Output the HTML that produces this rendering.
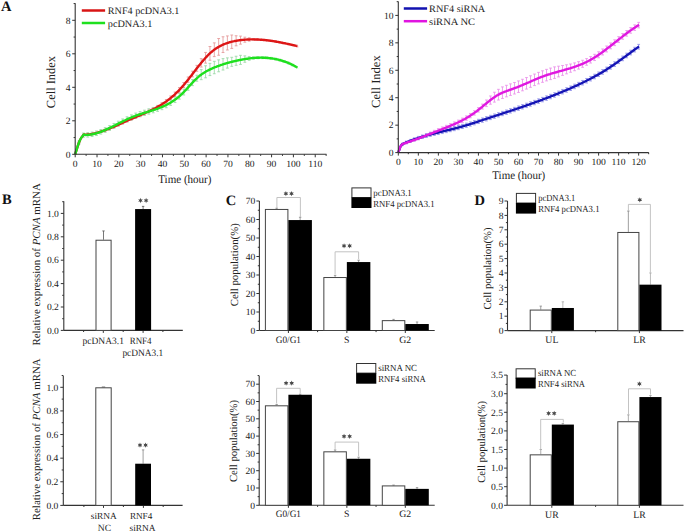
<!DOCTYPE html>
<html><head><meta charset="utf-8"><style>
html,body{margin:0;padding:0;background:#fff;}
svg{display:block;}
text{font-family:"Liberation Serif", serif;text-rendering:geometricPrecision;}
</style></head><body>
<svg width="685" height="532" viewBox="0 0 685 532">
<rect x="0" y="0" width="685" height="532" fill="#fff"/>
<text x="1.00" y="11.40" font-size="14.5" text-anchor="start" fill="#111" stroke="#111" stroke-width="0" font-weight="bold" >A</text>
<text x="2.00" y="204.40" font-size="14.5" text-anchor="start" fill="#111" stroke="#111" stroke-width="0" font-weight="bold" >B</text>
<text x="225.80" y="204.80" font-size="14.5" text-anchor="start" fill="#111" stroke="#111" stroke-width="0" font-weight="bold" >C</text>
<text x="474.60" y="204.50" font-size="14.5" text-anchor="start" fill="#111" stroke="#111" stroke-width="0" font-weight="bold" >D</text>
<g clip-path="none">
<line x1="79.02" y1="141.87" x2="79.02" y2="143.28" stroke="#e49898" stroke-width="0.85" />
<line x1="77.62" y1="141.87" x2="80.42" y2="141.87" stroke="#e49898" stroke-width="0.85" />
<line x1="77.62" y1="143.28" x2="80.42" y2="143.28" stroke="#e49898" stroke-width="0.85" />
<line x1="83.38" y1="134.46" x2="83.38" y2="135.94" stroke="#e49898" stroke-width="0.85" />
<line x1="81.98" y1="134.46" x2="84.78" y2="134.46" stroke="#e49898" stroke-width="0.85" />
<line x1="81.98" y1="135.94" x2="84.78" y2="135.94" stroke="#e49898" stroke-width="0.85" />
<line x1="87.75" y1="133.79" x2="87.75" y2="135.35" stroke="#e49898" stroke-width="0.85" />
<line x1="86.35" y1="133.79" x2="89.15" y2="133.79" stroke="#e49898" stroke-width="0.85" />
<line x1="86.35" y1="135.35" x2="89.15" y2="135.35" stroke="#e49898" stroke-width="0.85" />
<line x1="92.11" y1="133.09" x2="92.11" y2="134.71" stroke="#e49898" stroke-width="0.85" />
<line x1="90.71" y1="133.09" x2="93.51" y2="133.09" stroke="#e49898" stroke-width="0.85" />
<line x1="90.71" y1="134.71" x2="93.51" y2="134.71" stroke="#e49898" stroke-width="0.85" />
<line x1="96.47" y1="132.06" x2="96.47" y2="133.76" stroke="#e49898" stroke-width="0.85" />
<line x1="95.07" y1="132.06" x2="97.87" y2="132.06" stroke="#e49898" stroke-width="0.85" />
<line x1="95.07" y1="133.76" x2="97.87" y2="133.76" stroke="#e49898" stroke-width="0.85" />
<line x1="100.84" y1="130.76" x2="100.84" y2="132.54" stroke="#e49898" stroke-width="0.85" />
<line x1="99.44" y1="130.76" x2="102.24" y2="130.76" stroke="#e49898" stroke-width="0.85" />
<line x1="99.44" y1="132.54" x2="102.24" y2="132.54" stroke="#e49898" stroke-width="0.85" />
<line x1="105.20" y1="129.23" x2="105.20" y2="131.08" stroke="#e49898" stroke-width="0.85" />
<line x1="103.80" y1="129.23" x2="106.60" y2="129.23" stroke="#e49898" stroke-width="0.85" />
<line x1="103.80" y1="131.08" x2="106.60" y2="131.08" stroke="#e49898" stroke-width="0.85" />
<line x1="109.57" y1="127.51" x2="109.57" y2="129.44" stroke="#e49898" stroke-width="0.85" />
<line x1="108.17" y1="127.51" x2="110.97" y2="127.51" stroke="#e49898" stroke-width="0.85" />
<line x1="108.17" y1="129.44" x2="110.97" y2="129.44" stroke="#e49898" stroke-width="0.85" />
<line x1="113.93" y1="125.65" x2="113.93" y2="127.65" stroke="#e49898" stroke-width="0.85" />
<line x1="112.53" y1="125.65" x2="115.33" y2="125.65" stroke="#e49898" stroke-width="0.85" />
<line x1="112.53" y1="127.65" x2="115.33" y2="127.65" stroke="#e49898" stroke-width="0.85" />
<line x1="118.29" y1="123.70" x2="118.29" y2="125.78" stroke="#e49898" stroke-width="0.85" />
<line x1="116.89" y1="123.70" x2="119.69" y2="123.70" stroke="#e49898" stroke-width="0.85" />
<line x1="116.89" y1="125.78" x2="119.69" y2="125.78" stroke="#e49898" stroke-width="0.85" />
<line x1="122.66" y1="121.70" x2="122.66" y2="123.85" stroke="#e49898" stroke-width="0.85" />
<line x1="121.26" y1="121.70" x2="124.06" y2="121.70" stroke="#e49898" stroke-width="0.85" />
<line x1="121.26" y1="123.85" x2="124.06" y2="123.85" stroke="#e49898" stroke-width="0.85" />
<line x1="127.02" y1="119.69" x2="127.02" y2="121.91" stroke="#e49898" stroke-width="0.85" />
<line x1="125.62" y1="119.69" x2="128.42" y2="119.69" stroke="#e49898" stroke-width="0.85" />
<line x1="125.62" y1="121.91" x2="128.42" y2="121.91" stroke="#e49898" stroke-width="0.85" />
<line x1="131.39" y1="117.72" x2="131.39" y2="120.02" stroke="#e49898" stroke-width="0.85" />
<line x1="129.99" y1="117.72" x2="132.79" y2="117.72" stroke="#e49898" stroke-width="0.85" />
<line x1="129.99" y1="120.02" x2="132.79" y2="120.02" stroke="#e49898" stroke-width="0.85" />
<line x1="135.75" y1="115.82" x2="135.75" y2="118.19" stroke="#e49898" stroke-width="0.85" />
<line x1="134.35" y1="115.82" x2="137.15" y2="115.82" stroke="#e49898" stroke-width="0.85" />
<line x1="134.35" y1="118.19" x2="137.15" y2="118.19" stroke="#e49898" stroke-width="0.85" />
<line x1="140.11" y1="113.95" x2="140.11" y2="116.39" stroke="#e49898" stroke-width="0.85" />
<line x1="138.71" y1="113.95" x2="141.51" y2="113.95" stroke="#e49898" stroke-width="0.85" />
<line x1="138.71" y1="116.39" x2="141.51" y2="116.39" stroke="#e49898" stroke-width="0.85" />
<line x1="144.48" y1="112.04" x2="144.48" y2="114.56" stroke="#e49898" stroke-width="0.85" />
<line x1="143.08" y1="112.04" x2="145.88" y2="112.04" stroke="#e49898" stroke-width="0.85" />
<line x1="143.08" y1="114.56" x2="145.88" y2="114.56" stroke="#e49898" stroke-width="0.85" />
<line x1="148.84" y1="110.04" x2="148.84" y2="112.63" stroke="#e49898" stroke-width="0.85" />
<line x1="147.44" y1="110.04" x2="150.24" y2="110.04" stroke="#e49898" stroke-width="0.85" />
<line x1="147.44" y1="112.63" x2="150.24" y2="112.63" stroke="#e49898" stroke-width="0.85" />
<line x1="153.21" y1="107.88" x2="153.21" y2="110.55" stroke="#e49898" stroke-width="0.85" />
<line x1="151.81" y1="107.88" x2="154.61" y2="107.88" stroke="#e49898" stroke-width="0.85" />
<line x1="151.81" y1="110.55" x2="154.61" y2="110.55" stroke="#e49898" stroke-width="0.85" />
<line x1="157.57" y1="105.40" x2="157.57" y2="108.37" stroke="#e49898" stroke-width="0.85" />
<line x1="156.17" y1="105.40" x2="158.97" y2="105.40" stroke="#e49898" stroke-width="0.85" />
<line x1="156.17" y1="108.37" x2="158.97" y2="108.37" stroke="#e49898" stroke-width="0.85" />
<line x1="161.93" y1="102.63" x2="161.93" y2="105.93" stroke="#e49898" stroke-width="0.85" />
<line x1="160.53" y1="102.63" x2="163.33" y2="102.63" stroke="#e49898" stroke-width="0.85" />
<line x1="160.53" y1="105.93" x2="163.33" y2="105.93" stroke="#e49898" stroke-width="0.85" />
<line x1="166.30" y1="99.52" x2="166.30" y2="103.16" stroke="#e49898" stroke-width="0.85" />
<line x1="164.90" y1="99.52" x2="167.70" y2="99.52" stroke="#e49898" stroke-width="0.85" />
<line x1="164.90" y1="103.16" x2="167.70" y2="103.16" stroke="#e49898" stroke-width="0.85" />
<line x1="170.66" y1="96.01" x2="170.66" y2="99.99" stroke="#e49898" stroke-width="0.85" />
<line x1="169.26" y1="96.01" x2="172.06" y2="96.01" stroke="#e49898" stroke-width="0.85" />
<line x1="169.26" y1="99.99" x2="172.06" y2="99.99" stroke="#e49898" stroke-width="0.85" />
<line x1="175.03" y1="92.05" x2="175.03" y2="96.37" stroke="#e49898" stroke-width="0.85" />
<line x1="173.63" y1="92.05" x2="176.43" y2="92.05" stroke="#e49898" stroke-width="0.85" />
<line x1="173.63" y1="96.37" x2="176.43" y2="96.37" stroke="#e49898" stroke-width="0.85" />
<line x1="179.39" y1="87.58" x2="179.39" y2="92.23" stroke="#e49898" stroke-width="0.85" />
<line x1="177.99" y1="87.58" x2="180.79" y2="87.58" stroke="#e49898" stroke-width="0.85" />
<line x1="177.99" y1="92.23" x2="180.79" y2="92.23" stroke="#e49898" stroke-width="0.85" />
<line x1="183.75" y1="82.53" x2="183.75" y2="87.52" stroke="#e49898" stroke-width="0.85" />
<line x1="182.35" y1="82.53" x2="185.15" y2="82.53" stroke="#e49898" stroke-width="0.85" />
<line x1="182.35" y1="87.52" x2="185.15" y2="87.52" stroke="#e49898" stroke-width="0.85" />
<line x1="188.12" y1="77.00" x2="188.12" y2="82.31" stroke="#e49898" stroke-width="0.85" />
<line x1="186.72" y1="77.00" x2="189.52" y2="77.00" stroke="#e49898" stroke-width="0.85" />
<line x1="186.72" y1="82.31" x2="189.52" y2="82.31" stroke="#e49898" stroke-width="0.85" />
<line x1="192.48" y1="71.19" x2="192.48" y2="76.84" stroke="#e49898" stroke-width="0.85" />
<line x1="191.08" y1="71.19" x2="193.88" y2="71.19" stroke="#e49898" stroke-width="0.85" />
<line x1="191.08" y1="76.84" x2="193.88" y2="76.84" stroke="#e49898" stroke-width="0.85" />
<line x1="196.85" y1="65.35" x2="196.85" y2="71.33" stroke="#e49898" stroke-width="0.85" />
<line x1="195.45" y1="65.35" x2="198.25" y2="65.35" stroke="#e49898" stroke-width="0.85" />
<line x1="195.45" y1="71.33" x2="198.25" y2="71.33" stroke="#e49898" stroke-width="0.85" />
<line x1="201.21" y1="58.66" x2="201.21" y2="67.04" stroke="#e49898" stroke-width="0.85" />
<line x1="199.81" y1="58.66" x2="202.61" y2="58.66" stroke="#e49898" stroke-width="0.85" />
<line x1="199.81" y1="67.04" x2="202.61" y2="67.04" stroke="#e49898" stroke-width="0.85" />
<line x1="205.57" y1="52.42" x2="205.57" y2="63.14" stroke="#e49898" stroke-width="0.85" />
<line x1="204.17" y1="52.42" x2="206.97" y2="52.42" stroke="#e49898" stroke-width="0.85" />
<line x1="204.17" y1="63.14" x2="206.97" y2="63.14" stroke="#e49898" stroke-width="0.85" />
<line x1="209.94" y1="46.49" x2="209.94" y2="60.23" stroke="#e49898" stroke-width="0.85" />
<line x1="208.54" y1="46.49" x2="211.34" y2="46.49" stroke="#e49898" stroke-width="0.85" />
<line x1="208.54" y1="60.23" x2="211.34" y2="60.23" stroke="#e49898" stroke-width="0.85" />
<line x1="214.30" y1="42.87" x2="214.30" y2="56.61" stroke="#e49898" stroke-width="0.85" />
<line x1="212.90" y1="42.87" x2="215.70" y2="42.87" stroke="#e49898" stroke-width="0.85" />
<line x1="212.90" y1="56.61" x2="215.70" y2="56.61" stroke="#e49898" stroke-width="0.85" />
<line x1="218.67" y1="38.50" x2="218.67" y2="55.25" stroke="#e49898" stroke-width="0.85" />
<line x1="217.27" y1="38.50" x2="220.07" y2="38.50" stroke="#e49898" stroke-width="0.85" />
<line x1="217.27" y1="55.25" x2="220.07" y2="55.25" stroke="#e49898" stroke-width="0.85" />
<line x1="223.03" y1="36.78" x2="223.03" y2="52.52" stroke="#e49898" stroke-width="0.85" />
<line x1="221.63" y1="36.78" x2="224.43" y2="36.78" stroke="#e49898" stroke-width="0.85" />
<line x1="221.63" y1="52.52" x2="224.43" y2="52.52" stroke="#e49898" stroke-width="0.85" />
<line x1="227.39" y1="35.93" x2="227.39" y2="50.00" stroke="#e49898" stroke-width="0.85" />
<line x1="225.99" y1="35.93" x2="228.79" y2="35.93" stroke="#e49898" stroke-width="0.85" />
<line x1="225.99" y1="50.00" x2="228.79" y2="50.00" stroke="#e49898" stroke-width="0.85" />
<line x1="231.76" y1="35.02" x2="231.76" y2="48.42" stroke="#e49898" stroke-width="0.85" />
<line x1="230.36" y1="35.02" x2="233.16" y2="35.02" stroke="#e49898" stroke-width="0.85" />
<line x1="230.36" y1="48.42" x2="233.16" y2="48.42" stroke="#e49898" stroke-width="0.85" />
<line x1="236.12" y1="35.77" x2="236.12" y2="45.82" stroke="#e49898" stroke-width="0.85" />
<line x1="234.72" y1="35.77" x2="237.52" y2="35.77" stroke="#e49898" stroke-width="0.85" />
<line x1="234.72" y1="45.82" x2="237.52" y2="45.82" stroke="#e49898" stroke-width="0.85" />
<line x1="240.49" y1="36.11" x2="240.49" y2="44.15" stroke="#e49898" stroke-width="0.85" />
<line x1="239.09" y1="36.11" x2="241.89" y2="36.11" stroke="#e49898" stroke-width="0.85" />
<line x1="239.09" y1="44.15" x2="241.89" y2="44.15" stroke="#e49898" stroke-width="0.85" />
<line x1="244.85" y1="37.18" x2="244.85" y2="42.20" stroke="#e49898" stroke-width="0.85" />
<line x1="243.45" y1="37.18" x2="246.25" y2="37.18" stroke="#e49898" stroke-width="0.85" />
<line x1="243.45" y1="42.20" x2="246.25" y2="42.20" stroke="#e49898" stroke-width="0.85" />
<line x1="249.21" y1="37.78" x2="249.21" y2="41.13" stroke="#e49898" stroke-width="0.85" />
<line x1="247.81" y1="37.78" x2="250.61" y2="37.78" stroke="#e49898" stroke-width="0.85" />
<line x1="247.81" y1="41.13" x2="250.61" y2="41.13" stroke="#e49898" stroke-width="0.85" />
<line x1="253.58" y1="38.63" x2="253.58" y2="40.19" stroke="#e49898" stroke-width="0.85" />
<line x1="252.18" y1="38.63" x2="254.98" y2="38.63" stroke="#e49898" stroke-width="0.85" />
<line x1="252.18" y1="40.19" x2="254.98" y2="40.19" stroke="#e49898" stroke-width="0.85" />
<line x1="257.94" y1="38.88" x2="257.94" y2="40.20" stroke="#e49898" stroke-width="0.85" />
<line x1="256.54" y1="38.88" x2="259.34" y2="38.88" stroke="#e49898" stroke-width="0.85" />
<line x1="256.54" y1="40.20" x2="259.34" y2="40.20" stroke="#e49898" stroke-width="0.85" />
<line x1="262.31" y1="39.18" x2="262.31" y2="40.48" stroke="#e49898" stroke-width="0.85" />
<line x1="260.91" y1="39.18" x2="263.71" y2="39.18" stroke="#e49898" stroke-width="0.85" />
<line x1="260.91" y1="40.48" x2="263.71" y2="40.48" stroke="#e49898" stroke-width="0.85" />
<line x1="266.67" y1="39.62" x2="266.67" y2="40.91" stroke="#e49898" stroke-width="0.85" />
<line x1="265.27" y1="39.62" x2="268.07" y2="39.62" stroke="#e49898" stroke-width="0.85" />
<line x1="265.27" y1="40.91" x2="268.07" y2="40.91" stroke="#e49898" stroke-width="0.85" />
<line x1="271.03" y1="40.20" x2="271.03" y2="41.47" stroke="#e49898" stroke-width="0.85" />
<line x1="269.63" y1="40.20" x2="272.43" y2="40.20" stroke="#e49898" stroke-width="0.85" />
<line x1="269.63" y1="41.47" x2="272.43" y2="41.47" stroke="#e49898" stroke-width="0.85" />
<line x1="275.40" y1="40.88" x2="275.40" y2="42.14" stroke="#e49898" stroke-width="0.85" />
<line x1="274.00" y1="40.88" x2="276.80" y2="40.88" stroke="#e49898" stroke-width="0.85" />
<line x1="274.00" y1="42.14" x2="276.80" y2="42.14" stroke="#e49898" stroke-width="0.85" />
<line x1="279.76" y1="41.67" x2="279.76" y2="42.90" stroke="#e49898" stroke-width="0.85" />
<line x1="278.36" y1="41.67" x2="281.16" y2="41.67" stroke="#e49898" stroke-width="0.85" />
<line x1="278.36" y1="42.90" x2="281.16" y2="42.90" stroke="#e49898" stroke-width="0.85" />
<line x1="284.13" y1="42.53" x2="284.13" y2="43.75" stroke="#e49898" stroke-width="0.85" />
<line x1="282.73" y1="42.53" x2="285.53" y2="42.53" stroke="#e49898" stroke-width="0.85" />
<line x1="282.73" y1="43.75" x2="285.53" y2="43.75" stroke="#e49898" stroke-width="0.85" />
<line x1="288.49" y1="43.47" x2="288.49" y2="44.67" stroke="#e49898" stroke-width="0.85" />
<line x1="287.09" y1="43.47" x2="289.89" y2="43.47" stroke="#e49898" stroke-width="0.85" />
<line x1="287.09" y1="44.67" x2="289.89" y2="44.67" stroke="#e49898" stroke-width="0.85" />
<line x1="292.85" y1="44.45" x2="292.85" y2="45.63" stroke="#e49898" stroke-width="0.85" />
<line x1="291.45" y1="44.45" x2="294.25" y2="44.45" stroke="#e49898" stroke-width="0.85" />
<line x1="291.45" y1="45.63" x2="294.25" y2="45.63" stroke="#e49898" stroke-width="0.85" />
<line x1="79.02" y1="141.06" x2="79.02" y2="144.09" stroke="#98d8a4" stroke-width="0.85" />
<line x1="77.62" y1="141.06" x2="80.42" y2="141.06" stroke="#98d8a4" stroke-width="0.85" />
<line x1="77.62" y1="144.09" x2="80.42" y2="144.09" stroke="#98d8a4" stroke-width="0.85" />
<line x1="83.38" y1="133.09" x2="83.38" y2="137.30" stroke="#98d8a4" stroke-width="0.85" />
<line x1="81.98" y1="133.09" x2="84.78" y2="133.09" stroke="#98d8a4" stroke-width="0.85" />
<line x1="81.98" y1="137.30" x2="84.78" y2="137.30" stroke="#98d8a4" stroke-width="0.85" />
<line x1="87.75" y1="132.65" x2="87.75" y2="137.06" stroke="#98d8a4" stroke-width="0.85" />
<line x1="86.35" y1="132.65" x2="89.15" y2="132.65" stroke="#98d8a4" stroke-width="0.85" />
<line x1="86.35" y1="137.06" x2="89.15" y2="137.06" stroke="#98d8a4" stroke-width="0.85" />
<line x1="92.11" y1="132.05" x2="92.11" y2="136.53" stroke="#98d8a4" stroke-width="0.85" />
<line x1="90.71" y1="132.05" x2="93.51" y2="132.05" stroke="#98d8a4" stroke-width="0.85" />
<line x1="90.71" y1="136.53" x2="93.51" y2="136.53" stroke="#98d8a4" stroke-width="0.85" />
<line x1="96.47" y1="130.97" x2="96.47" y2="135.51" stroke="#98d8a4" stroke-width="0.85" />
<line x1="95.07" y1="130.97" x2="97.87" y2="130.97" stroke="#98d8a4" stroke-width="0.85" />
<line x1="95.07" y1="135.51" x2="97.87" y2="135.51" stroke="#98d8a4" stroke-width="0.85" />
<line x1="100.84" y1="129.49" x2="100.84" y2="134.09" stroke="#98d8a4" stroke-width="0.85" />
<line x1="99.44" y1="129.49" x2="102.24" y2="129.49" stroke="#98d8a4" stroke-width="0.85" />
<line x1="99.44" y1="134.09" x2="102.24" y2="134.09" stroke="#98d8a4" stroke-width="0.85" />
<line x1="105.20" y1="127.69" x2="105.20" y2="132.35" stroke="#98d8a4" stroke-width="0.85" />
<line x1="103.80" y1="127.69" x2="106.60" y2="127.69" stroke="#98d8a4" stroke-width="0.85" />
<line x1="103.80" y1="132.35" x2="106.60" y2="132.35" stroke="#98d8a4" stroke-width="0.85" />
<line x1="109.57" y1="125.65" x2="109.57" y2="130.38" stroke="#98d8a4" stroke-width="0.85" />
<line x1="108.17" y1="125.65" x2="110.97" y2="125.65" stroke="#98d8a4" stroke-width="0.85" />
<line x1="108.17" y1="130.38" x2="110.97" y2="130.38" stroke="#98d8a4" stroke-width="0.85" />
<line x1="113.93" y1="123.46" x2="113.93" y2="128.26" stroke="#98d8a4" stroke-width="0.85" />
<line x1="112.53" y1="123.46" x2="115.33" y2="123.46" stroke="#98d8a4" stroke-width="0.85" />
<line x1="112.53" y1="128.26" x2="115.33" y2="128.26" stroke="#98d8a4" stroke-width="0.85" />
<line x1="118.29" y1="121.20" x2="118.29" y2="126.07" stroke="#98d8a4" stroke-width="0.85" />
<line x1="116.89" y1="121.20" x2="119.69" y2="121.20" stroke="#98d8a4" stroke-width="0.85" />
<line x1="116.89" y1="126.07" x2="119.69" y2="126.07" stroke="#98d8a4" stroke-width="0.85" />
<line x1="122.66" y1="118.96" x2="122.66" y2="123.89" stroke="#98d8a4" stroke-width="0.85" />
<line x1="121.26" y1="118.96" x2="124.06" y2="118.96" stroke="#98d8a4" stroke-width="0.85" />
<line x1="121.26" y1="123.89" x2="124.06" y2="123.89" stroke="#98d8a4" stroke-width="0.85" />
<line x1="127.02" y1="116.82" x2="127.02" y2="121.81" stroke="#98d8a4" stroke-width="0.85" />
<line x1="125.62" y1="116.82" x2="128.42" y2="116.82" stroke="#98d8a4" stroke-width="0.85" />
<line x1="125.62" y1="121.81" x2="128.42" y2="121.81" stroke="#98d8a4" stroke-width="0.85" />
<line x1="131.39" y1="114.86" x2="131.39" y2="119.91" stroke="#98d8a4" stroke-width="0.85" />
<line x1="129.99" y1="114.86" x2="132.79" y2="114.86" stroke="#98d8a4" stroke-width="0.85" />
<line x1="129.99" y1="119.91" x2="132.79" y2="119.91" stroke="#98d8a4" stroke-width="0.85" />
<line x1="135.75" y1="113.14" x2="135.75" y2="118.26" stroke="#98d8a4" stroke-width="0.85" />
<line x1="134.35" y1="113.14" x2="137.15" y2="113.14" stroke="#98d8a4" stroke-width="0.85" />
<line x1="134.35" y1="118.26" x2="137.15" y2="118.26" stroke="#98d8a4" stroke-width="0.85" />
<line x1="140.11" y1="111.61" x2="140.11" y2="116.79" stroke="#98d8a4" stroke-width="0.85" />
<line x1="138.71" y1="111.61" x2="141.51" y2="111.61" stroke="#98d8a4" stroke-width="0.85" />
<line x1="138.71" y1="116.79" x2="141.51" y2="116.79" stroke="#98d8a4" stroke-width="0.85" />
<line x1="144.48" y1="110.19" x2="144.48" y2="115.44" stroke="#98d8a4" stroke-width="0.85" />
<line x1="143.08" y1="110.19" x2="145.88" y2="110.19" stroke="#98d8a4" stroke-width="0.85" />
<line x1="143.08" y1="115.44" x2="145.88" y2="115.44" stroke="#98d8a4" stroke-width="0.85" />
<line x1="148.84" y1="108.82" x2="148.84" y2="114.13" stroke="#98d8a4" stroke-width="0.85" />
<line x1="147.44" y1="108.82" x2="150.24" y2="108.82" stroke="#98d8a4" stroke-width="0.85" />
<line x1="147.44" y1="114.13" x2="150.24" y2="114.13" stroke="#98d8a4" stroke-width="0.85" />
<line x1="153.21" y1="107.41" x2="153.21" y2="112.79" stroke="#98d8a4" stroke-width="0.85" />
<line x1="151.81" y1="107.41" x2="154.61" y2="107.41" stroke="#98d8a4" stroke-width="0.85" />
<line x1="151.81" y1="112.79" x2="154.61" y2="112.79" stroke="#98d8a4" stroke-width="0.85" />
<line x1="157.57" y1="105.88" x2="157.57" y2="111.32" stroke="#98d8a4" stroke-width="0.85" />
<line x1="156.17" y1="105.88" x2="158.97" y2="105.88" stroke="#98d8a4" stroke-width="0.85" />
<line x1="156.17" y1="111.32" x2="158.97" y2="111.32" stroke="#98d8a4" stroke-width="0.85" />
<line x1="161.93" y1="104.16" x2="161.93" y2="109.67" stroke="#98d8a4" stroke-width="0.85" />
<line x1="160.53" y1="104.16" x2="163.33" y2="104.16" stroke="#98d8a4" stroke-width="0.85" />
<line x1="160.53" y1="109.67" x2="163.33" y2="109.67" stroke="#98d8a4" stroke-width="0.85" />
<line x1="166.30" y1="102.15" x2="166.30" y2="107.72" stroke="#98d8a4" stroke-width="0.85" />
<line x1="164.90" y1="102.15" x2="167.70" y2="102.15" stroke="#98d8a4" stroke-width="0.85" />
<line x1="164.90" y1="107.72" x2="167.70" y2="107.72" stroke="#98d8a4" stroke-width="0.85" />
<line x1="170.66" y1="99.75" x2="170.66" y2="105.38" stroke="#98d8a4" stroke-width="0.85" />
<line x1="169.26" y1="99.75" x2="172.06" y2="99.75" stroke="#98d8a4" stroke-width="0.85" />
<line x1="169.26" y1="105.38" x2="172.06" y2="105.38" stroke="#98d8a4" stroke-width="0.85" />
<line x1="175.03" y1="96.85" x2="175.03" y2="102.55" stroke="#98d8a4" stroke-width="0.85" />
<line x1="173.63" y1="96.85" x2="176.43" y2="96.85" stroke="#98d8a4" stroke-width="0.85" />
<line x1="173.63" y1="102.55" x2="176.43" y2="102.55" stroke="#98d8a4" stroke-width="0.85" />
<line x1="179.39" y1="93.35" x2="179.39" y2="99.11" stroke="#98d8a4" stroke-width="0.85" />
<line x1="177.99" y1="93.35" x2="180.79" y2="93.35" stroke="#98d8a4" stroke-width="0.85" />
<line x1="177.99" y1="99.11" x2="180.79" y2="99.11" stroke="#98d8a4" stroke-width="0.85" />
<line x1="183.75" y1="89.15" x2="183.75" y2="94.98" stroke="#98d8a4" stroke-width="0.85" />
<line x1="182.35" y1="89.15" x2="185.15" y2="89.15" stroke="#98d8a4" stroke-width="0.85" />
<line x1="182.35" y1="94.98" x2="185.15" y2="94.98" stroke="#98d8a4" stroke-width="0.85" />
<line x1="188.12" y1="84.44" x2="188.12" y2="90.33" stroke="#98d8a4" stroke-width="0.85" />
<line x1="186.72" y1="84.44" x2="189.52" y2="84.44" stroke="#98d8a4" stroke-width="0.85" />
<line x1="186.72" y1="90.33" x2="189.52" y2="90.33" stroke="#98d8a4" stroke-width="0.85" />
<line x1="192.48" y1="79.65" x2="192.48" y2="85.61" stroke="#98d8a4" stroke-width="0.85" />
<line x1="191.08" y1="79.65" x2="193.88" y2="79.65" stroke="#98d8a4" stroke-width="0.85" />
<line x1="191.08" y1="85.61" x2="193.88" y2="85.61" stroke="#98d8a4" stroke-width="0.85" />
<line x1="196.85" y1="75.24" x2="196.85" y2="81.26" stroke="#98d8a4" stroke-width="0.85" />
<line x1="195.45" y1="75.24" x2="198.25" y2="75.24" stroke="#98d8a4" stroke-width="0.85" />
<line x1="195.45" y1="81.26" x2="198.25" y2="81.26" stroke="#98d8a4" stroke-width="0.85" />
<line x1="201.21" y1="69.62" x2="201.21" y2="79.67" stroke="#98d8a4" stroke-width="0.85" />
<line x1="199.81" y1="69.62" x2="202.61" y2="69.62" stroke="#98d8a4" stroke-width="0.85" />
<line x1="199.81" y1="79.67" x2="202.61" y2="79.67" stroke="#98d8a4" stroke-width="0.85" />
<line x1="205.57" y1="65.76" x2="205.57" y2="77.82" stroke="#98d8a4" stroke-width="0.85" />
<line x1="204.17" y1="65.76" x2="206.97" y2="65.76" stroke="#98d8a4" stroke-width="0.85" />
<line x1="204.17" y1="77.82" x2="206.97" y2="77.82" stroke="#98d8a4" stroke-width="0.85" />
<line x1="209.94" y1="63.36" x2="209.94" y2="75.59" stroke="#98d8a4" stroke-width="0.85" />
<line x1="208.54" y1="63.36" x2="211.34" y2="63.36" stroke="#98d8a4" stroke-width="0.85" />
<line x1="208.54" y1="75.59" x2="211.34" y2="75.59" stroke="#98d8a4" stroke-width="0.85" />
<line x1="214.30" y1="61.34" x2="214.30" y2="73.74" stroke="#98d8a4" stroke-width="0.85" />
<line x1="212.90" y1="61.34" x2="215.70" y2="61.34" stroke="#98d8a4" stroke-width="0.85" />
<line x1="212.90" y1="73.74" x2="215.70" y2="73.74" stroke="#98d8a4" stroke-width="0.85" />
<line x1="218.67" y1="59.89" x2="218.67" y2="71.78" stroke="#98d8a4" stroke-width="0.85" />
<line x1="217.27" y1="59.89" x2="220.07" y2="59.89" stroke="#98d8a4" stroke-width="0.85" />
<line x1="217.27" y1="71.78" x2="220.07" y2="71.78" stroke="#98d8a4" stroke-width="0.85" />
<line x1="223.03" y1="58.64" x2="223.03" y2="70.03" stroke="#98d8a4" stroke-width="0.85" />
<line x1="221.63" y1="58.64" x2="224.43" y2="58.64" stroke="#98d8a4" stroke-width="0.85" />
<line x1="221.63" y1="70.03" x2="224.43" y2="70.03" stroke="#98d8a4" stroke-width="0.85" />
<line x1="227.39" y1="57.89" x2="227.39" y2="68.11" stroke="#98d8a4" stroke-width="0.85" />
<line x1="225.99" y1="57.89" x2="228.79" y2="57.89" stroke="#98d8a4" stroke-width="0.85" />
<line x1="225.99" y1="68.11" x2="228.79" y2="68.11" stroke="#98d8a4" stroke-width="0.85" />
<line x1="231.76" y1="57.31" x2="231.76" y2="66.35" stroke="#98d8a4" stroke-width="0.85" />
<line x1="230.36" y1="57.31" x2="233.16" y2="57.31" stroke="#98d8a4" stroke-width="0.85" />
<line x1="230.36" y1="66.35" x2="233.16" y2="66.35" stroke="#98d8a4" stroke-width="0.85" />
<line x1="236.12" y1="56.26" x2="236.12" y2="65.31" stroke="#98d8a4" stroke-width="0.85" />
<line x1="234.72" y1="56.26" x2="237.52" y2="56.26" stroke="#98d8a4" stroke-width="0.85" />
<line x1="234.72" y1="65.31" x2="237.52" y2="65.31" stroke="#98d8a4" stroke-width="0.85" />
<line x1="240.49" y1="55.34" x2="240.49" y2="64.39" stroke="#98d8a4" stroke-width="0.85" />
<line x1="239.09" y1="55.34" x2="241.89" y2="55.34" stroke="#98d8a4" stroke-width="0.85" />
<line x1="239.09" y1="64.39" x2="241.89" y2="64.39" stroke="#98d8a4" stroke-width="0.85" />
<line x1="244.85" y1="55.89" x2="244.85" y2="62.26" stroke="#98d8a4" stroke-width="0.85" />
<line x1="243.45" y1="55.89" x2="246.25" y2="55.89" stroke="#98d8a4" stroke-width="0.85" />
<line x1="243.45" y1="62.26" x2="246.25" y2="62.26" stroke="#98d8a4" stroke-width="0.85" />
<line x1="249.21" y1="56.60" x2="249.21" y2="60.29" stroke="#98d8a4" stroke-width="0.85" />
<line x1="247.81" y1="56.60" x2="250.61" y2="56.60" stroke="#98d8a4" stroke-width="0.85" />
<line x1="247.81" y1="60.29" x2="250.61" y2="60.29" stroke="#98d8a4" stroke-width="0.85" />
<line x1="253.58" y1="56.99" x2="253.58" y2="58.98" stroke="#98d8a4" stroke-width="0.85" />
<line x1="252.18" y1="56.99" x2="254.98" y2="56.99" stroke="#98d8a4" stroke-width="0.85" />
<line x1="252.18" y1="58.98" x2="254.98" y2="58.98" stroke="#98d8a4" stroke-width="0.85" />
<line x1="257.94" y1="56.74" x2="257.94" y2="58.70" stroke="#98d8a4" stroke-width="0.85" />
<line x1="256.54" y1="56.74" x2="259.34" y2="56.74" stroke="#98d8a4" stroke-width="0.85" />
<line x1="256.54" y1="58.70" x2="259.34" y2="58.70" stroke="#98d8a4" stroke-width="0.85" />
<line x1="262.31" y1="56.71" x2="262.31" y2="58.64" stroke="#98d8a4" stroke-width="0.85" />
<line x1="260.91" y1="56.71" x2="263.71" y2="56.71" stroke="#98d8a4" stroke-width="0.85" />
<line x1="260.91" y1="58.64" x2="263.71" y2="58.64" stroke="#98d8a4" stroke-width="0.85" />
<line x1="266.67" y1="56.92" x2="266.67" y2="58.81" stroke="#98d8a4" stroke-width="0.85" />
<line x1="265.27" y1="56.92" x2="268.07" y2="56.92" stroke="#98d8a4" stroke-width="0.85" />
<line x1="265.27" y1="58.81" x2="268.07" y2="58.81" stroke="#98d8a4" stroke-width="0.85" />
<line x1="271.03" y1="57.38" x2="271.03" y2="59.24" stroke="#98d8a4" stroke-width="0.85" />
<line x1="269.63" y1="57.38" x2="272.43" y2="57.38" stroke="#98d8a4" stroke-width="0.85" />
<line x1="269.63" y1="59.24" x2="272.43" y2="59.24" stroke="#98d8a4" stroke-width="0.85" />
<line x1="275.40" y1="58.11" x2="275.40" y2="59.94" stroke="#98d8a4" stroke-width="0.85" />
<line x1="274.00" y1="58.11" x2="276.80" y2="58.11" stroke="#98d8a4" stroke-width="0.85" />
<line x1="274.00" y1="59.94" x2="276.80" y2="59.94" stroke="#98d8a4" stroke-width="0.85" />
<line x1="279.76" y1="59.15" x2="279.76" y2="60.94" stroke="#98d8a4" stroke-width="0.85" />
<line x1="278.36" y1="59.15" x2="281.16" y2="59.15" stroke="#98d8a4" stroke-width="0.85" />
<line x1="278.36" y1="60.94" x2="281.16" y2="60.94" stroke="#98d8a4" stroke-width="0.85" />
<line x1="284.13" y1="60.49" x2="284.13" y2="62.25" stroke="#98d8a4" stroke-width="0.85" />
<line x1="282.73" y1="60.49" x2="285.53" y2="60.49" stroke="#98d8a4" stroke-width="0.85" />
<line x1="282.73" y1="62.25" x2="285.53" y2="62.25" stroke="#98d8a4" stroke-width="0.85" />
<line x1="288.49" y1="62.18" x2="288.49" y2="63.90" stroke="#98d8a4" stroke-width="0.85" />
<line x1="287.09" y1="62.18" x2="289.89" y2="62.18" stroke="#98d8a4" stroke-width="0.85" />
<line x1="287.09" y1="63.90" x2="289.89" y2="63.90" stroke="#98d8a4" stroke-width="0.85" />
<line x1="292.85" y1="64.22" x2="292.85" y2="65.91" stroke="#98d8a4" stroke-width="0.85" />
<line x1="291.45" y1="64.22" x2="294.25" y2="64.22" stroke="#98d8a4" stroke-width="0.85" />
<line x1="291.45" y1="65.91" x2="294.25" y2="65.91" stroke="#98d8a4" stroke-width="0.85" />
<path d="M75.20,154.30 C75.93,152.07 78.16,144.14 79.56,140.90 C80.96,137.66 82.75,135.88 83.60,134.87 C84.46,133.86 84.33,134.84 84.69,134.83 C85.06,134.81 85.42,134.78 85.78,134.76 C86.15,134.73 86.51,134.70 86.87,134.66 C87.24,134.63 87.60,134.59 87.96,134.55 C88.33,134.50 88.69,134.46 89.06,134.41 C89.42,134.36 89.78,134.30 90.15,134.25 C90.51,134.19 90.87,134.13 91.24,134.06 C91.60,134.00 91.97,133.93 92.33,133.86 C92.69,133.79 93.06,133.71 93.42,133.64 C93.78,133.56 94.15,133.48 94.51,133.39 C94.87,133.31 95.24,133.22 95.60,133.13 C95.97,133.04 96.33,132.95 96.69,132.86 C97.06,132.76 97.42,132.66 97.78,132.56 C98.15,132.46 98.51,132.35 98.87,132.25 C99.24,132.14 99.60,132.03 99.97,131.92 C100.33,131.81 100.69,131.69 101.06,131.58 C101.42,131.46 101.78,131.34 102.15,131.22 C102.51,131.10 102.88,130.98 103.24,130.85 C103.60,130.73 103.97,130.60 104.33,130.47 C104.69,130.34 105.06,130.21 105.42,130.07 C105.78,129.94 106.15,129.80 106.51,129.67 C106.88,129.53 107.24,129.39 107.60,129.25 C107.97,129.11 108.33,128.97 108.69,128.82 C109.06,128.68 109.42,128.53 109.78,128.39 C110.15,128.24 110.51,128.09 110.88,127.94 C111.24,127.79 111.60,127.64 111.97,127.49 C112.33,127.34 112.69,127.18 113.06,127.03 C113.42,126.87 113.79,126.72 114.15,126.56 C114.51,126.40 114.88,126.25 115.24,126.09 C115.60,125.93 115.97,125.77 116.33,125.61 C116.69,125.45 117.06,125.29 117.42,125.13 C117.79,124.97 118.15,124.80 118.51,124.64 C118.88,124.48 119.24,124.32 119.60,124.15 C119.97,123.99 120.33,123.83 120.69,123.66 C121.06,123.50 121.42,123.33 121.79,123.17 C122.15,123.00 122.51,122.84 122.88,122.67 C123.24,122.51 123.60,122.35 123.97,122.18 C124.33,122.02 124.70,121.85 125.06,121.69 C125.42,121.52 125.79,121.36 126.15,121.19 C126.51,121.03 126.88,120.87 127.24,120.70 C127.60,120.54 127.97,120.38 128.33,120.22 C128.70,120.05 129.06,119.89 129.42,119.73 C129.79,119.57 130.15,119.41 130.51,119.25 C130.88,119.09 131.24,118.93 131.60,118.78 C131.97,118.62 132.33,118.46 132.70,118.31 C133.06,118.15 133.42,117.99 133.79,117.84 C134.15,117.68 134.51,117.53 134.88,117.38 C135.24,117.22 135.61,117.07 135.97,116.92 C136.33,116.76 136.70,116.61 137.06,116.46 C137.42,116.30 137.79,116.15 138.15,116.00 C138.51,115.85 138.88,115.69 139.24,115.54 C139.61,115.39 139.97,115.23 140.33,115.08 C140.70,114.93 141.06,114.77 141.42,114.62 C141.79,114.46 142.15,114.31 142.51,114.15 C142.88,113.99 143.24,113.84 143.61,113.68 C143.97,113.52 144.33,113.37 144.70,113.21 C145.06,113.05 145.42,112.89 145.79,112.72 C146.15,112.56 146.52,112.40 146.88,112.24 C147.24,112.07 147.61,111.91 147.97,111.74 C148.33,111.57 148.70,111.41 149.06,111.24 C149.42,111.07 149.79,110.89 150.15,110.72 C150.52,110.55 150.88,110.37 151.24,110.20 C151.61,110.02 151.97,109.84 152.33,109.66 C152.70,109.48 153.06,109.29 153.42,109.11 C153.79,108.92 154.15,108.74 154.52,108.55 C154.88,108.36 155.24,108.16 155.61,107.97 C155.97,107.77 156.33,107.57 156.70,107.37 C157.06,107.17 157.43,106.97 157.79,106.76 C158.15,106.56 158.52,106.35 158.88,106.14 C159.24,105.93 159.61,105.71 159.97,105.49 C160.33,105.27 160.70,105.05 161.06,104.83 C161.43,104.60 161.79,104.37 162.15,104.14 C162.52,103.91 162.88,103.68 163.24,103.44 C163.61,103.20 163.97,102.96 164.33,102.71 C164.70,102.46 165.06,102.21 165.43,101.96 C165.79,101.70 166.15,101.45 166.52,101.18 C166.88,100.92 167.24,100.65 167.61,100.38 C167.97,100.11 168.34,99.84 168.70,99.56 C169.06,99.28 169.43,98.99 169.79,98.71 C170.15,98.42 170.52,98.12 170.88,97.83 C171.24,97.53 171.61,97.22 171.97,96.92 C172.34,96.61 172.70,96.30 173.06,95.98 C173.43,95.66 173.79,95.34 174.15,95.01 C174.52,94.68 174.88,94.35 175.24,94.01 C175.61,93.67 175.97,93.33 176.34,92.98 C176.70,92.63 177.06,92.27 177.43,91.91 C177.79,91.55 178.15,91.18 178.52,90.81 C178.88,90.44 179.25,90.06 179.61,89.67 C179.97,89.29 180.34,88.90 180.70,88.50 C181.06,88.11 181.43,87.70 181.79,87.29 C182.15,86.88 182.52,86.47 182.88,86.05 C183.25,85.63 183.61,85.20 183.97,84.77 C184.34,84.34 184.70,83.90 185.06,83.46 C185.43,83.02 185.79,82.57 186.15,82.12 C186.52,81.67 186.88,81.22 187.25,80.76 C187.61,80.30 187.97,79.84 188.34,79.38 C188.70,78.92 189.06,78.45 189.43,77.98 C189.79,77.52 190.16,77.05 190.52,76.57 C190.88,76.10 191.25,75.63 191.61,75.16 C191.97,74.68 192.34,74.21 192.70,73.73 C193.06,73.26 193.43,72.78 193.79,72.31 C194.16,71.83 194.52,71.36 194.88,70.88 C195.25,70.41 195.61,69.94 195.97,69.47 C196.34,69.00 196.70,68.53 197.06,68.06 C197.43,67.59 197.79,67.12 198.16,66.66 C198.52,66.20 198.88,65.74 199.25,65.28 C199.61,64.82 199.97,64.37 200.34,63.92 C200.70,63.47 201.07,63.03 201.43,62.58 C201.79,62.14 202.16,61.71 202.52,61.27 C202.88,60.84 203.25,60.41 203.61,59.99 C203.97,59.57 204.34,59.16 204.70,58.75 C205.07,58.34 205.43,57.94 205.79,57.54 C206.16,57.14 206.52,56.75 206.88,56.37 C207.25,55.99 207.61,55.62 207.97,55.25 C208.34,54.88 208.70,54.53 209.07,54.18 C209.43,53.83 209.79,53.49 210.16,53.15 C210.52,52.82 210.88,52.50 211.25,52.18 C211.61,51.87 211.98,51.56 212.34,51.27 C212.70,50.97 213.07,50.68 213.43,50.40 C213.79,50.12 214.16,49.84 214.52,49.58 C214.88,49.31 215.25,49.05 215.61,48.80 C215.98,48.55 216.34,48.31 216.70,48.07 C217.07,47.84 217.43,47.61 217.79,47.39 C218.16,47.17 218.52,46.95 218.88,46.74 C219.25,46.54 219.61,46.34 219.98,46.14 C220.34,45.95 220.70,45.76 221.07,45.57 C221.43,45.39 221.79,45.22 222.16,45.04 C222.52,44.87 222.89,44.71 223.25,44.55 C223.61,44.39 223.98,44.24 224.34,44.09 C224.70,43.94 225.07,43.80 225.43,43.66 C225.79,43.52 226.16,43.39 226.52,43.26 C226.89,43.13 227.25,43.01 227.61,42.89 C227.98,42.77 228.34,42.66 228.70,42.55 C229.07,42.44 229.43,42.33 229.79,42.23 C230.16,42.13 230.52,42.03 230.89,41.93 C231.25,41.84 231.61,41.75 231.98,41.66 C232.34,41.57 232.70,41.49 233.07,41.41 C233.43,41.33 233.80,41.25 234.16,41.18 C234.52,41.10 234.89,41.03 235.25,40.96 C235.61,40.89 235.98,40.82 236.34,40.76 C236.70,40.69 237.07,40.63 237.43,40.57 C237.80,40.51 238.16,40.46 238.52,40.40 C238.89,40.35 239.25,40.30 239.61,40.25 C239.98,40.20 240.34,40.15 240.70,40.10 C241.07,40.06 241.43,40.02 241.80,39.98 C242.16,39.93 242.52,39.90 242.89,39.86 C243.25,39.82 243.61,39.79 243.98,39.76 C244.34,39.73 244.71,39.70 245.07,39.67 C245.43,39.64 245.80,39.62 246.16,39.60 C246.52,39.57 246.89,39.55 247.25,39.53 C247.61,39.51 247.98,39.50 248.34,39.48 C248.71,39.47 249.07,39.45 249.43,39.44 C249.80,39.43 250.16,39.42 250.52,39.42 C250.89,39.41 251.25,39.41 251.61,39.40 C251.98,39.40 252.34,39.40 252.71,39.40 C253.07,39.40 253.43,39.40 253.80,39.41 C254.16,39.41 254.52,39.42 254.89,39.43 C255.25,39.44 255.62,39.45 255.98,39.46 C256.34,39.47 256.71,39.48 257.07,39.50 C257.43,39.51 257.80,39.53 258.16,39.55 C258.52,39.57 258.89,39.59 259.25,39.61 C259.62,39.63 259.98,39.65 260.34,39.68 C260.71,39.70 261.07,39.73 261.43,39.76 C261.80,39.79 262.16,39.82 262.52,39.85 C262.89,39.88 263.25,39.91 263.62,39.95 C263.98,39.98 264.34,40.02 264.71,40.05 C265.07,40.09 265.43,40.13 265.80,40.17 C266.16,40.21 266.53,40.25 266.89,40.29 C267.25,40.33 267.62,40.38 267.98,40.42 C268.34,40.47 268.71,40.51 269.07,40.56 C269.43,40.61 269.80,40.66 270.16,40.71 C270.53,40.76 270.89,40.81 271.25,40.86 C271.62,40.92 271.98,40.97 272.34,41.02 C272.71,41.08 273.07,41.13 273.43,41.19 C273.80,41.25 274.16,41.31 274.53,41.37 C274.89,41.43 275.25,41.49 275.62,41.55 C275.98,41.61 276.34,41.67 276.71,41.73 C277.07,41.80 277.44,41.86 277.80,41.93 C278.16,41.99 278.53,42.06 278.89,42.12 C279.25,42.19 279.62,42.26 279.98,42.33 C280.34,42.40 280.71,42.46 281.07,42.54 C281.44,42.61 281.80,42.68 282.16,42.75 C282.53,42.82 282.89,42.89 283.25,42.97 C283.62,43.04 283.98,43.11 284.34,43.19 C284.71,43.26 285.07,43.34 285.44,43.41 C285.80,43.49 286.16,43.57 286.53,43.64 C286.89,43.72 287.25,43.80 287.62,43.88 C287.98,43.96 288.35,44.03 288.71,44.11 C289.07,44.19 289.44,44.27 289.80,44.35 C290.16,44.43 290.53,44.52 290.89,44.60 C291.25,44.68 291.62,44.76 291.98,44.84 C292.35,44.92 292.71,45.01 293.07,45.09 C293.44,45.17 293.80,45.26 294.16,45.34 C294.53,45.42 294.89,45.51 295.25,45.59 C295.62,45.68 295.98,45.76 296.35,45.84 C296.71,45.93 297.24,46.05 297.44,46.10 C297.64,46.15 297.53,46.12 297.55,46.12" fill="none" stroke="#dd1616" stroke-width="2.4" stroke-linejoin="round"/>
<path d="M75.20,154.30 C75.93,152.07 78.16,144.14 79.56,140.90 C80.96,137.66 82.75,135.87 83.60,134.87 C84.46,133.87 84.33,134.91 84.69,134.92 C85.06,134.93 85.42,134.93 85.78,134.93 C86.15,134.93 86.51,134.92 86.87,134.91 C87.24,134.89 87.60,134.87 87.96,134.84 C88.33,134.82 88.69,134.78 89.06,134.74 C89.42,134.71 89.78,134.66 90.15,134.61 C90.51,134.56 90.87,134.51 91.24,134.45 C91.60,134.39 91.97,134.32 92.33,134.25 C92.69,134.18 93.06,134.11 93.42,134.02 C93.78,133.94 94.15,133.86 94.51,133.77 C94.87,133.68 95.24,133.59 95.60,133.49 C95.97,133.39 96.33,133.29 96.69,133.18 C97.06,133.07 97.42,132.96 97.78,132.85 C98.15,132.73 98.51,132.61 98.87,132.49 C99.24,132.37 99.60,132.24 99.97,132.11 C100.33,131.98 100.69,131.85 101.06,131.71 C101.42,131.57 101.78,131.43 102.15,131.29 C102.51,131.15 102.88,131.00 103.24,130.85 C103.60,130.70 103.97,130.55 104.33,130.40 C104.69,130.24 105.06,130.09 105.42,129.93 C105.78,129.77 106.15,129.60 106.51,129.44 C106.88,129.28 107.24,129.11 107.60,128.94 C107.97,128.77 108.33,128.60 108.69,128.43 C109.06,128.26 109.42,128.09 109.78,127.91 C110.15,127.74 110.51,127.56 110.88,127.38 C111.24,127.20 111.60,127.02 111.97,126.84 C112.33,126.66 112.69,126.48 113.06,126.30 C113.42,126.12 113.79,125.93 114.15,125.75 C114.51,125.57 114.88,125.38 115.24,125.20 C115.60,125.01 115.97,124.83 116.33,124.64 C116.69,124.45 117.06,124.27 117.42,124.08 C117.79,123.90 118.15,123.71 118.51,123.52 C118.88,123.34 119.24,123.15 119.60,122.97 C119.97,122.78 120.33,122.60 120.69,122.41 C121.06,122.23 121.42,122.04 121.79,121.86 C122.15,121.68 122.51,121.50 122.88,121.32 C123.24,121.14 123.60,120.96 123.97,120.78 C124.33,120.60 124.70,120.42 125.06,120.25 C125.42,120.07 125.79,119.90 126.15,119.72 C126.51,119.55 126.88,119.38 127.24,119.21 C127.60,119.04 127.97,118.88 128.33,118.71 C128.70,118.55 129.06,118.39 129.42,118.23 C129.79,118.07 130.15,117.91 130.51,117.75 C130.88,117.60 131.24,117.44 131.60,117.29 C131.97,117.14 132.33,117.00 132.70,116.85 C133.06,116.71 133.42,116.57 133.79,116.43 C134.15,116.29 134.51,116.15 134.88,116.02 C135.24,115.88 135.61,115.75 135.97,115.62 C136.33,115.49 136.70,115.36 137.06,115.23 C137.42,115.10 137.79,114.98 138.15,114.85 C138.51,114.73 138.88,114.61 139.24,114.49 C139.61,114.37 139.97,114.25 140.33,114.13 C140.70,114.01 141.06,113.89 141.42,113.78 C141.79,113.66 142.15,113.54 142.51,113.43 C142.88,113.32 143.24,113.20 143.61,113.09 C143.97,112.98 144.33,112.86 144.70,112.75 C145.06,112.64 145.42,112.53 145.79,112.42 C146.15,112.30 146.52,112.19 146.88,112.08 C147.24,111.97 147.61,111.86 147.97,111.75 C148.33,111.63 148.70,111.52 149.06,111.41 C149.42,111.30 149.79,111.18 150.15,111.07 C150.52,110.96 150.88,110.84 151.24,110.73 C151.61,110.61 151.97,110.50 152.33,110.38 C152.70,110.26 153.06,110.15 153.42,110.03 C153.79,109.91 154.15,109.79 154.52,109.66 C154.88,109.54 155.24,109.42 155.61,109.29 C155.97,109.17 156.33,109.04 156.70,108.92 C157.06,108.79 157.43,108.66 157.79,108.52 C158.15,108.39 158.52,108.26 158.88,108.12 C159.24,107.99 159.61,107.85 159.97,107.71 C160.33,107.56 160.70,107.42 161.06,107.27 C161.43,107.13 161.79,106.98 162.15,106.83 C162.52,106.67 162.88,106.52 163.24,106.36 C163.61,106.20 163.97,106.04 164.33,105.87 C164.70,105.71 165.06,105.54 165.43,105.36 C165.79,105.19 166.15,105.01 166.52,104.83 C166.88,104.65 167.24,104.46 167.61,104.27 C167.97,104.08 168.34,103.89 168.70,103.69 C169.06,103.49 169.43,103.29 169.79,103.08 C170.15,102.87 170.52,102.66 170.88,102.44 C171.24,102.22 171.61,101.99 171.97,101.76 C172.34,101.53 172.70,101.30 173.06,101.06 C173.43,100.82 173.79,100.57 174.15,100.32 C174.52,100.06 174.88,99.81 175.24,99.54 C175.61,99.28 175.97,99.00 176.34,98.73 C176.70,98.45 177.06,98.16 177.43,97.87 C177.79,97.58 178.15,97.28 178.52,96.98 C178.88,96.67 179.25,96.36 179.61,96.04 C179.97,95.72 180.34,95.39 180.70,95.06 C181.06,94.72 181.43,94.38 181.79,94.03 C182.15,93.68 182.52,93.32 182.88,92.96 C183.25,92.59 183.61,92.22 183.97,91.85 C184.34,91.47 184.70,91.09 185.06,90.70 C185.43,90.32 185.79,89.92 186.15,89.53 C186.52,89.14 186.88,88.74 187.25,88.34 C187.61,87.95 187.97,87.55 188.34,87.15 C188.70,86.75 189.06,86.34 189.43,85.95 C189.79,85.55 190.16,85.15 190.52,84.75 C190.88,84.35 191.25,83.95 191.61,83.56 C191.97,83.17 192.34,82.78 192.70,82.39 C193.06,82.01 193.43,81.63 193.79,81.25 C194.16,80.88 194.52,80.50 194.88,80.14 C195.25,79.78 195.61,79.42 195.97,79.07 C196.34,78.72 196.70,78.38 197.06,78.05 C197.43,77.72 197.79,77.39 198.16,77.08 C198.52,76.76 198.88,76.46 199.25,76.16 C199.61,75.87 199.97,75.58 200.34,75.30 C200.70,75.02 201.07,74.75 201.43,74.49 C201.79,74.22 202.16,73.97 202.52,73.72 C202.88,73.47 203.25,73.23 203.61,72.99 C203.97,72.76 204.34,72.53 204.70,72.30 C205.07,72.08 205.43,71.87 205.79,71.66 C206.16,71.44 206.52,71.24 206.88,71.04 C207.25,70.84 207.61,70.65 207.97,70.46 C208.34,70.27 208.70,70.08 209.07,69.90 C209.43,69.72 209.79,69.54 210.16,69.37 C210.52,69.20 210.88,69.03 211.25,68.86 C211.61,68.70 211.98,68.53 212.34,68.38 C212.70,68.22 213.07,68.06 213.43,67.90 C213.79,67.75 214.16,67.60 214.52,67.45 C214.88,67.30 215.25,67.15 215.61,67.00 C215.98,66.86 216.34,66.72 216.70,66.57 C217.07,66.43 217.43,66.29 217.79,66.16 C218.16,66.02 218.52,65.89 218.88,65.75 C219.25,65.62 219.61,65.49 219.98,65.36 C220.34,65.23 220.70,65.11 221.07,64.98 C221.43,64.86 221.79,64.74 222.16,64.62 C222.52,64.49 222.89,64.38 223.25,64.26 C223.61,64.14 223.98,64.03 224.34,63.91 C224.70,63.80 225.07,63.69 225.43,63.58 C225.79,63.47 226.16,63.36 226.52,63.25 C226.89,63.15 227.25,63.04 227.61,62.94 C227.98,62.84 228.34,62.73 228.70,62.63 C229.07,62.53 229.43,62.44 229.79,62.34 C230.16,62.24 230.52,62.15 230.89,62.05 C231.25,61.96 231.61,61.86 231.98,61.77 C232.34,61.68 232.70,61.59 233.07,61.50 C233.43,61.41 233.80,61.33 234.16,61.24 C234.52,61.15 234.89,61.07 235.25,60.98 C235.61,60.90 235.98,60.82 236.34,60.74 C236.70,60.66 237.07,60.57 237.43,60.50 C237.80,60.42 238.16,60.34 238.52,60.26 C238.89,60.19 239.25,60.11 239.61,60.04 C239.98,59.96 240.34,59.89 240.70,59.82 C241.07,59.75 241.43,59.68 241.80,59.61 C242.16,59.54 242.52,59.48 242.89,59.41 C243.25,59.35 243.61,59.28 243.98,59.22 C244.34,59.16 244.71,59.10 245.07,59.04 C245.43,58.98 245.80,58.92 246.16,58.87 C246.52,58.81 246.89,58.76 247.25,58.71 C247.61,58.65 247.98,58.60 248.34,58.56 C248.71,58.51 249.07,58.46 249.43,58.41 C249.80,58.37 250.16,58.33 250.52,58.29 C250.89,58.24 251.25,58.20 251.61,58.17 C251.98,58.13 252.34,58.09 252.71,58.06 C253.07,58.03 253.43,58.00 253.80,57.97 C254.16,57.94 254.52,57.91 254.89,57.88 C255.25,57.86 255.62,57.84 255.98,57.81 C256.34,57.79 256.71,57.77 257.07,57.76 C257.43,57.74 257.80,57.73 258.16,57.71 C258.52,57.70 258.89,57.69 259.25,57.68 C259.62,57.68 259.98,57.67 260.34,57.67 C260.71,57.66 261.07,57.66 261.43,57.67 C261.80,57.67 262.16,57.67 262.52,57.68 C262.89,57.68 263.25,57.69 263.62,57.70 C263.98,57.72 264.34,57.73 264.71,57.75 C265.07,57.76 265.43,57.78 265.80,57.80 C266.16,57.83 266.53,57.85 266.89,57.88 C267.25,57.91 267.62,57.93 267.98,57.97 C268.34,58.00 268.71,58.03 269.07,58.07 C269.43,58.11 269.80,58.15 270.16,58.20 C270.53,58.24 270.89,58.29 271.25,58.33 C271.62,58.38 271.98,58.44 272.34,58.49 C272.71,58.55 273.07,58.60 273.43,58.67 C273.80,58.73 274.16,58.79 274.53,58.86 C274.89,58.92 275.25,58.99 275.62,59.07 C275.98,59.14 276.34,59.22 276.71,59.30 C277.07,59.38 277.44,59.46 277.80,59.54 C278.16,59.63 278.53,59.72 278.89,59.81 C279.25,59.90 279.62,60.00 279.98,60.10 C280.34,60.20 280.71,60.30 281.07,60.40 C281.44,60.51 281.80,60.62 282.16,60.73 C282.53,60.84 282.89,60.96 283.25,61.08 C283.62,61.20 283.98,61.32 284.34,61.45 C284.71,61.57 285.07,61.70 285.44,61.83 C285.80,61.97 286.16,62.10 286.53,62.24 C286.89,62.38 287.25,62.53 287.62,62.68 C287.98,62.82 288.35,62.97 288.71,63.13 C289.07,63.28 289.44,63.44 289.80,63.61 C290.16,63.77 290.53,63.93 290.89,64.10 C291.25,64.27 291.62,64.45 291.98,64.63 C292.35,64.80 292.71,64.99 293.07,65.17 C293.44,65.36 293.80,65.55 294.16,65.74 C294.53,65.93 294.89,66.13 295.25,66.33 C295.62,66.53 295.98,66.74 296.35,66.95 C296.71,67.16 297.24,67.47 297.44,67.59 C297.64,67.71 297.53,67.64 297.55,67.65" fill="none" stroke="#1ee01e" stroke-width="2.4" stroke-linejoin="round"/>
</g>
<line x1="75.20" y1="154.30" x2="326.50" y2="154.30" stroke="#333" stroke-width="1.1" />
<line x1="75.20" y1="154.30" x2="75.20" y2="3.30" stroke="#333" stroke-width="1.1" />
<line x1="72.20" y1="154.30" x2="75.20" y2="154.30" stroke="#333" stroke-width="1.0" />
<line x1="72.20" y1="120.80" x2="75.20" y2="120.80" stroke="#333" stroke-width="1.0" />
<line x1="72.20" y1="87.30" x2="75.20" y2="87.30" stroke="#333" stroke-width="1.0" />
<line x1="72.20" y1="53.80" x2="75.20" y2="53.80" stroke="#333" stroke-width="1.0" />
<line x1="72.20" y1="20.30" x2="75.20" y2="20.30" stroke="#333" stroke-width="1.0" />
<line x1="73.60" y1="137.55" x2="75.20" y2="137.55" stroke="#333" stroke-width="1.0" />
<line x1="73.60" y1="104.05" x2="75.20" y2="104.05" stroke="#333" stroke-width="1.0" />
<line x1="73.60" y1="70.55" x2="75.20" y2="70.55" stroke="#333" stroke-width="1.0" />
<line x1="73.60" y1="37.05" x2="75.20" y2="37.05" stroke="#333" stroke-width="1.0" />
<line x1="73.60" y1="3.55" x2="75.20" y2="3.55" stroke="#333" stroke-width="1.0" />
<line x1="75.20" y1="154.30" x2="75.20" y2="157.30" stroke="#333" stroke-width="1.0" />
<line x1="97.02" y1="154.30" x2="97.02" y2="157.30" stroke="#333" stroke-width="1.0" />
<line x1="118.84" y1="154.30" x2="118.84" y2="157.30" stroke="#333" stroke-width="1.0" />
<line x1="140.66" y1="154.30" x2="140.66" y2="157.30" stroke="#333" stroke-width="1.0" />
<line x1="162.48" y1="154.30" x2="162.48" y2="157.30" stroke="#333" stroke-width="1.0" />
<line x1="184.30" y1="154.30" x2="184.30" y2="157.30" stroke="#333" stroke-width="1.0" />
<line x1="206.12" y1="154.30" x2="206.12" y2="157.30" stroke="#333" stroke-width="1.0" />
<line x1="227.94" y1="154.30" x2="227.94" y2="157.30" stroke="#333" stroke-width="1.0" />
<line x1="249.76" y1="154.30" x2="249.76" y2="157.30" stroke="#333" stroke-width="1.0" />
<line x1="271.58" y1="154.30" x2="271.58" y2="157.30" stroke="#333" stroke-width="1.0" />
<line x1="293.40" y1="154.30" x2="293.40" y2="157.30" stroke="#333" stroke-width="1.0" />
<line x1="315.22" y1="154.30" x2="315.22" y2="157.30" stroke="#333" stroke-width="1.0" />
<line x1="86.11" y1="154.30" x2="86.11" y2="155.90" stroke="#333" stroke-width="1.0" />
<line x1="107.93" y1="154.30" x2="107.93" y2="155.90" stroke="#333" stroke-width="1.0" />
<line x1="129.75" y1="154.30" x2="129.75" y2="155.90" stroke="#333" stroke-width="1.0" />
<line x1="151.57" y1="154.30" x2="151.57" y2="155.90" stroke="#333" stroke-width="1.0" />
<line x1="173.39" y1="154.30" x2="173.39" y2="155.90" stroke="#333" stroke-width="1.0" />
<line x1="195.21" y1="154.30" x2="195.21" y2="155.90" stroke="#333" stroke-width="1.0" />
<line x1="217.03" y1="154.30" x2="217.03" y2="155.90" stroke="#333" stroke-width="1.0" />
<line x1="238.85" y1="154.30" x2="238.85" y2="155.90" stroke="#333" stroke-width="1.0" />
<line x1="260.67" y1="154.30" x2="260.67" y2="155.90" stroke="#333" stroke-width="1.0" />
<line x1="282.49" y1="154.30" x2="282.49" y2="155.90" stroke="#333" stroke-width="1.0" />
<line x1="304.31" y1="154.30" x2="304.31" y2="155.90" stroke="#333" stroke-width="1.0" />
<line x1="326.13" y1="154.30" x2="326.13" y2="155.90" stroke="#333" stroke-width="1.0" />
<text x="70.60" y="157.55" font-size="9.6" text-anchor="end" fill="#222" stroke="#222" stroke-width="0" font-weight="normal" >0</text>
<text x="70.60" y="124.05" font-size="9.6" text-anchor="end" fill="#222" stroke="#222" stroke-width="0" font-weight="normal" >2</text>
<text x="70.60" y="90.55" font-size="9.6" text-anchor="end" fill="#222" stroke="#222" stroke-width="0" font-weight="normal" >4</text>
<text x="70.60" y="57.05" font-size="9.6" text-anchor="end" fill="#222" stroke="#222" stroke-width="0" font-weight="normal" >6</text>
<text x="70.60" y="23.55" font-size="9.6" text-anchor="end" fill="#222" stroke="#222" stroke-width="0" font-weight="normal" >8</text>
<text x="75.20" y="166.80" font-size="9.6" text-anchor="middle" fill="#222" stroke="#222" stroke-width="0" font-weight="normal" >0</text>
<text x="97.02" y="166.80" font-size="9.6" text-anchor="middle" fill="#222" stroke="#222" stroke-width="0" font-weight="normal" >10</text>
<text x="118.84" y="166.80" font-size="9.6" text-anchor="middle" fill="#222" stroke="#222" stroke-width="0" font-weight="normal" >20</text>
<text x="140.66" y="166.80" font-size="9.6" text-anchor="middle" fill="#222" stroke="#222" stroke-width="0" font-weight="normal" >30</text>
<text x="162.48" y="166.80" font-size="9.6" text-anchor="middle" fill="#222" stroke="#222" stroke-width="0" font-weight="normal" >40</text>
<text x="184.30" y="166.80" font-size="9.6" text-anchor="middle" fill="#222" stroke="#222" stroke-width="0" font-weight="normal" >50</text>
<text x="206.12" y="166.80" font-size="9.6" text-anchor="middle" fill="#222" stroke="#222" stroke-width="0" font-weight="normal" >60</text>
<text x="227.94" y="166.80" font-size="9.6" text-anchor="middle" fill="#222" stroke="#222" stroke-width="0" font-weight="normal" >70</text>
<text x="249.76" y="166.80" font-size="9.6" text-anchor="middle" fill="#222" stroke="#222" stroke-width="0" font-weight="normal" >80</text>
<text x="271.58" y="166.80" font-size="9.6" text-anchor="middle" fill="#222" stroke="#222" stroke-width="0" font-weight="normal" >90</text>
<text x="293.40" y="166.80" font-size="9.6" text-anchor="middle" fill="#222" stroke="#222" stroke-width="0" font-weight="normal" >100</text>
<text x="315.22" y="166.80" font-size="9.6" text-anchor="middle" fill="#222" stroke="#222" stroke-width="0" font-weight="normal" >110</text>
<text x="54.60" y="82.05" font-size="12.4" text-anchor="middle" fill="#222" stroke="#222" stroke-width="0" font-weight="normal" textLength="52.20" lengthAdjust="spacingAndGlyphs" transform="rotate(-90 54.60 82.05)" >Cell Index</text>
<text x="184.85" y="182.80" font-size="11.7" text-anchor="middle" fill="#222" stroke="#222" stroke-width="0" font-weight="normal" textLength="53.20" lengthAdjust="spacingAndGlyphs" >Time (hour)</text>
<line x1="81.80" y1="10.50" x2="105.10" y2="10.50" stroke="#d81414" stroke-width="2.5" />
<line x1="81.80" y1="23.00" x2="105.10" y2="23.00" stroke="#1ee01e" stroke-width="2.5" />
<text x="107.80" y="13.90" font-size="10" text-anchor="start" fill="#222" stroke="#222" stroke-width="0" font-weight="normal" textLength="71.60" lengthAdjust="spacingAndGlyphs" >RNF4 pcDNA3.1</text>
<text x="107.80" y="27.10" font-size="10" text-anchor="start" fill="#222" stroke="#222" stroke-width="0" font-weight="normal" textLength="44.60" lengthAdjust="spacingAndGlyphs" >pcDNA3.1</text>
<line x1="402.31" y1="143.50" x2="402.31" y2="145.36" stroke="#ea90ea" stroke-width="0.85" />
<line x1="400.91" y1="143.50" x2="403.71" y2="143.50" stroke="#ea90ea" stroke-width="0.85" />
<line x1="400.91" y1="145.36" x2="403.71" y2="145.36" stroke="#ea90ea" stroke-width="0.85" />
<line x1="406.31" y1="141.69" x2="406.31" y2="143.78" stroke="#ea90ea" stroke-width="0.85" />
<line x1="404.91" y1="141.69" x2="407.71" y2="141.69" stroke="#ea90ea" stroke-width="0.85" />
<line x1="404.91" y1="143.78" x2="407.71" y2="143.78" stroke="#ea90ea" stroke-width="0.85" />
<line x1="410.32" y1="140.19" x2="410.32" y2="142.49" stroke="#ea90ea" stroke-width="0.85" />
<line x1="408.92" y1="140.19" x2="411.72" y2="140.19" stroke="#ea90ea" stroke-width="0.85" />
<line x1="408.92" y1="142.49" x2="411.72" y2="142.49" stroke="#ea90ea" stroke-width="0.85" />
<line x1="414.32" y1="138.64" x2="414.32" y2="141.17" stroke="#ea90ea" stroke-width="0.85" />
<line x1="412.92" y1="138.64" x2="415.72" y2="138.64" stroke="#ea90ea" stroke-width="0.85" />
<line x1="412.92" y1="141.17" x2="415.72" y2="141.17" stroke="#ea90ea" stroke-width="0.85" />
<line x1="418.33" y1="137.06" x2="418.33" y2="139.80" stroke="#ea90ea" stroke-width="0.85" />
<line x1="416.93" y1="137.06" x2="419.73" y2="137.06" stroke="#ea90ea" stroke-width="0.85" />
<line x1="416.93" y1="139.80" x2="419.73" y2="139.80" stroke="#ea90ea" stroke-width="0.85" />
<line x1="422.34" y1="135.42" x2="422.34" y2="138.44" stroke="#ea90ea" stroke-width="0.85" />
<line x1="420.94" y1="135.42" x2="423.74" y2="135.42" stroke="#ea90ea" stroke-width="0.85" />
<line x1="420.94" y1="138.44" x2="423.74" y2="138.44" stroke="#ea90ea" stroke-width="0.85" />
<line x1="426.34" y1="133.75" x2="426.34" y2="137.04" stroke="#ea90ea" stroke-width="0.85" />
<line x1="424.94" y1="133.75" x2="427.74" y2="133.75" stroke="#ea90ea" stroke-width="0.85" />
<line x1="424.94" y1="137.04" x2="427.74" y2="137.04" stroke="#ea90ea" stroke-width="0.85" />
<line x1="430.35" y1="132.05" x2="430.35" y2="135.62" stroke="#ea90ea" stroke-width="0.85" />
<line x1="428.95" y1="132.05" x2="431.75" y2="132.05" stroke="#ea90ea" stroke-width="0.85" />
<line x1="428.95" y1="135.62" x2="431.75" y2="135.62" stroke="#ea90ea" stroke-width="0.85" />
<line x1="434.35" y1="130.33" x2="434.35" y2="134.18" stroke="#ea90ea" stroke-width="0.85" />
<line x1="432.95" y1="130.33" x2="435.75" y2="130.33" stroke="#ea90ea" stroke-width="0.85" />
<line x1="432.95" y1="134.18" x2="435.75" y2="134.18" stroke="#ea90ea" stroke-width="0.85" />
<line x1="438.36" y1="128.60" x2="438.36" y2="132.72" stroke="#ea90ea" stroke-width="0.85" />
<line x1="436.96" y1="128.60" x2="439.76" y2="128.60" stroke="#ea90ea" stroke-width="0.85" />
<line x1="436.96" y1="132.72" x2="439.76" y2="132.72" stroke="#ea90ea" stroke-width="0.85" />
<line x1="442.37" y1="126.98" x2="442.37" y2="131.12" stroke="#ea90ea" stroke-width="0.85" />
<line x1="440.97" y1="126.98" x2="443.77" y2="126.98" stroke="#ea90ea" stroke-width="0.85" />
<line x1="440.97" y1="131.12" x2="443.77" y2="131.12" stroke="#ea90ea" stroke-width="0.85" />
<line x1="446.37" y1="125.34" x2="446.37" y2="129.51" stroke="#ea90ea" stroke-width="0.85" />
<line x1="444.97" y1="125.34" x2="447.77" y2="125.34" stroke="#ea90ea" stroke-width="0.85" />
<line x1="444.97" y1="129.51" x2="447.77" y2="129.51" stroke="#ea90ea" stroke-width="0.85" />
<line x1="450.38" y1="123.68" x2="450.38" y2="127.88" stroke="#ea90ea" stroke-width="0.85" />
<line x1="448.98" y1="123.68" x2="451.78" y2="123.68" stroke="#ea90ea" stroke-width="0.85" />
<line x1="448.98" y1="127.88" x2="451.78" y2="127.88" stroke="#ea90ea" stroke-width="0.85" />
<line x1="454.38" y1="121.95" x2="454.38" y2="126.17" stroke="#ea90ea" stroke-width="0.85" />
<line x1="452.98" y1="121.95" x2="455.78" y2="121.95" stroke="#ea90ea" stroke-width="0.85" />
<line x1="452.98" y1="126.17" x2="455.78" y2="126.17" stroke="#ea90ea" stroke-width="0.85" />
<line x1="458.39" y1="120.10" x2="458.39" y2="124.36" stroke="#ea90ea" stroke-width="0.85" />
<line x1="456.99" y1="120.10" x2="459.79" y2="120.10" stroke="#ea90ea" stroke-width="0.85" />
<line x1="456.99" y1="124.36" x2="459.79" y2="124.36" stroke="#ea90ea" stroke-width="0.85" />
<line x1="462.40" y1="118.10" x2="462.40" y2="122.38" stroke="#ea90ea" stroke-width="0.85" />
<line x1="461.00" y1="118.10" x2="463.80" y2="118.10" stroke="#ea90ea" stroke-width="0.85" />
<line x1="461.00" y1="122.38" x2="463.80" y2="122.38" stroke="#ea90ea" stroke-width="0.85" />
<line x1="466.40" y1="115.90" x2="466.40" y2="120.21" stroke="#ea90ea" stroke-width="0.85" />
<line x1="465.00" y1="115.90" x2="467.80" y2="115.90" stroke="#ea90ea" stroke-width="0.85" />
<line x1="465.00" y1="120.21" x2="467.80" y2="120.21" stroke="#ea90ea" stroke-width="0.85" />
<line x1="470.41" y1="113.45" x2="470.41" y2="117.78" stroke="#ea90ea" stroke-width="0.85" />
<line x1="469.01" y1="113.45" x2="471.81" y2="113.45" stroke="#ea90ea" stroke-width="0.85" />
<line x1="469.01" y1="117.78" x2="471.81" y2="117.78" stroke="#ea90ea" stroke-width="0.85" />
<line x1="474.41" y1="110.71" x2="474.41" y2="115.07" stroke="#ea90ea" stroke-width="0.85" />
<line x1="473.01" y1="110.71" x2="475.81" y2="110.71" stroke="#ea90ea" stroke-width="0.85" />
<line x1="473.01" y1="115.07" x2="475.81" y2="115.07" stroke="#ea90ea" stroke-width="0.85" />
<line x1="478.42" y1="107.65" x2="478.42" y2="112.04" stroke="#ea90ea" stroke-width="0.85" />
<line x1="477.02" y1="107.65" x2="479.82" y2="107.65" stroke="#ea90ea" stroke-width="0.85" />
<line x1="477.02" y1="112.04" x2="479.82" y2="112.04" stroke="#ea90ea" stroke-width="0.85" />
<line x1="482.43" y1="104.12" x2="482.43" y2="109.06" stroke="#ea90ea" stroke-width="0.85" />
<line x1="481.03" y1="104.12" x2="483.83" y2="104.12" stroke="#ea90ea" stroke-width="0.85" />
<line x1="481.03" y1="109.06" x2="483.83" y2="109.06" stroke="#ea90ea" stroke-width="0.85" />
<line x1="486.43" y1="100.00" x2="486.43" y2="106.58" stroke="#ea90ea" stroke-width="0.85" />
<line x1="485.03" y1="100.00" x2="487.83" y2="100.00" stroke="#ea90ea" stroke-width="0.85" />
<line x1="485.03" y1="106.58" x2="487.83" y2="106.58" stroke="#ea90ea" stroke-width="0.85" />
<line x1="490.44" y1="95.98" x2="490.44" y2="104.21" stroke="#ea90ea" stroke-width="0.85" />
<line x1="489.04" y1="95.98" x2="491.84" y2="95.98" stroke="#ea90ea" stroke-width="0.85" />
<line x1="489.04" y1="104.21" x2="491.84" y2="104.21" stroke="#ea90ea" stroke-width="0.85" />
<line x1="494.44" y1="92.23" x2="494.44" y2="102.11" stroke="#ea90ea" stroke-width="0.85" />
<line x1="493.04" y1="92.23" x2="495.84" y2="92.23" stroke="#ea90ea" stroke-width="0.85" />
<line x1="493.04" y1="102.11" x2="495.84" y2="102.11" stroke="#ea90ea" stroke-width="0.85" />
<line x1="498.45" y1="89.32" x2="498.45" y2="100.02" stroke="#ea90ea" stroke-width="0.85" />
<line x1="497.05" y1="89.32" x2="499.85" y2="89.32" stroke="#ea90ea" stroke-width="0.85" />
<line x1="497.05" y1="100.02" x2="499.85" y2="100.02" stroke="#ea90ea" stroke-width="0.85" />
<line x1="502.46" y1="86.92" x2="502.46" y2="98.44" stroke="#ea90ea" stroke-width="0.85" />
<line x1="501.06" y1="86.92" x2="503.86" y2="86.92" stroke="#ea90ea" stroke-width="0.85" />
<line x1="501.06" y1="98.44" x2="503.86" y2="98.44" stroke="#ea90ea" stroke-width="0.85" />
<line x1="506.46" y1="85.31" x2="506.46" y2="96.84" stroke="#ea90ea" stroke-width="0.85" />
<line x1="505.06" y1="85.31" x2="507.86" y2="85.31" stroke="#ea90ea" stroke-width="0.85" />
<line x1="505.06" y1="96.84" x2="507.86" y2="96.84" stroke="#ea90ea" stroke-width="0.85" />
<line x1="510.47" y1="83.89" x2="510.47" y2="95.42" stroke="#ea90ea" stroke-width="0.85" />
<line x1="509.07" y1="83.89" x2="511.87" y2="83.89" stroke="#ea90ea" stroke-width="0.85" />
<line x1="509.07" y1="95.42" x2="511.87" y2="95.42" stroke="#ea90ea" stroke-width="0.85" />
<line x1="514.47" y1="82.48" x2="514.47" y2="94.01" stroke="#ea90ea" stroke-width="0.85" />
<line x1="513.07" y1="82.48" x2="515.87" y2="82.48" stroke="#ea90ea" stroke-width="0.85" />
<line x1="513.07" y1="94.01" x2="515.87" y2="94.01" stroke="#ea90ea" stroke-width="0.85" />
<line x1="518.48" y1="80.94" x2="518.48" y2="92.46" stroke="#ea90ea" stroke-width="0.85" />
<line x1="517.08" y1="80.94" x2="519.88" y2="80.94" stroke="#ea90ea" stroke-width="0.85" />
<line x1="517.08" y1="92.46" x2="519.88" y2="92.46" stroke="#ea90ea" stroke-width="0.85" />
<line x1="522.49" y1="79.28" x2="522.49" y2="90.80" stroke="#ea90ea" stroke-width="0.85" />
<line x1="521.09" y1="79.28" x2="523.89" y2="79.28" stroke="#ea90ea" stroke-width="0.85" />
<line x1="521.09" y1="90.80" x2="523.89" y2="90.80" stroke="#ea90ea" stroke-width="0.85" />
<line x1="526.49" y1="77.55" x2="526.49" y2="89.07" stroke="#ea90ea" stroke-width="0.85" />
<line x1="525.09" y1="77.55" x2="527.89" y2="77.55" stroke="#ea90ea" stroke-width="0.85" />
<line x1="525.09" y1="89.07" x2="527.89" y2="89.07" stroke="#ea90ea" stroke-width="0.85" />
<line x1="530.50" y1="75.79" x2="530.50" y2="87.32" stroke="#ea90ea" stroke-width="0.85" />
<line x1="529.10" y1="75.79" x2="531.90" y2="75.79" stroke="#ea90ea" stroke-width="0.85" />
<line x1="529.10" y1="87.32" x2="531.90" y2="87.32" stroke="#ea90ea" stroke-width="0.85" />
<line x1="534.50" y1="74.05" x2="534.50" y2="85.58" stroke="#ea90ea" stroke-width="0.85" />
<line x1="533.10" y1="74.05" x2="535.90" y2="74.05" stroke="#ea90ea" stroke-width="0.85" />
<line x1="533.10" y1="85.58" x2="535.90" y2="85.58" stroke="#ea90ea" stroke-width="0.85" />
<line x1="538.51" y1="72.37" x2="538.51" y2="83.90" stroke="#ea90ea" stroke-width="0.85" />
<line x1="537.11" y1="72.37" x2="539.91" y2="72.37" stroke="#ea90ea" stroke-width="0.85" />
<line x1="537.11" y1="83.90" x2="539.91" y2="83.90" stroke="#ea90ea" stroke-width="0.85" />
<line x1="542.52" y1="70.80" x2="542.52" y2="82.32" stroke="#ea90ea" stroke-width="0.85" />
<line x1="541.12" y1="70.80" x2="543.92" y2="70.80" stroke="#ea90ea" stroke-width="0.85" />
<line x1="541.12" y1="82.32" x2="543.92" y2="82.32" stroke="#ea90ea" stroke-width="0.85" />
<line x1="546.52" y1="69.37" x2="546.52" y2="80.89" stroke="#ea90ea" stroke-width="0.85" />
<line x1="545.12" y1="69.37" x2="547.92" y2="69.37" stroke="#ea90ea" stroke-width="0.85" />
<line x1="545.12" y1="80.89" x2="547.92" y2="80.89" stroke="#ea90ea" stroke-width="0.85" />
<line x1="550.53" y1="68.08" x2="550.53" y2="79.60" stroke="#ea90ea" stroke-width="0.85" />
<line x1="549.13" y1="68.08" x2="551.93" y2="68.08" stroke="#ea90ea" stroke-width="0.85" />
<line x1="549.13" y1="79.60" x2="551.93" y2="79.60" stroke="#ea90ea" stroke-width="0.85" />
<line x1="554.53" y1="66.89" x2="554.53" y2="78.42" stroke="#ea90ea" stroke-width="0.85" />
<line x1="553.13" y1="66.89" x2="555.93" y2="66.89" stroke="#ea90ea" stroke-width="0.85" />
<line x1="553.13" y1="78.42" x2="555.93" y2="78.42" stroke="#ea90ea" stroke-width="0.85" />
<line x1="558.54" y1="66.18" x2="558.54" y2="76.88" stroke="#ea90ea" stroke-width="0.85" />
<line x1="557.14" y1="66.18" x2="559.94" y2="66.18" stroke="#ea90ea" stroke-width="0.85" />
<line x1="557.14" y1="76.88" x2="559.94" y2="76.88" stroke="#ea90ea" stroke-width="0.85" />
<line x1="562.55" y1="65.49" x2="562.55" y2="75.36" stroke="#ea90ea" stroke-width="0.85" />
<line x1="561.15" y1="65.49" x2="563.95" y2="65.49" stroke="#ea90ea" stroke-width="0.85" />
<line x1="561.15" y1="75.36" x2="563.95" y2="75.36" stroke="#ea90ea" stroke-width="0.85" />
<line x1="566.55" y1="64.77" x2="566.55" y2="73.83" stroke="#ea90ea" stroke-width="0.85" />
<line x1="565.15" y1="64.77" x2="567.95" y2="64.77" stroke="#ea90ea" stroke-width="0.85" />
<line x1="565.15" y1="73.83" x2="567.95" y2="73.83" stroke="#ea90ea" stroke-width="0.85" />
<line x1="570.56" y1="64.00" x2="570.56" y2="72.23" stroke="#ea90ea" stroke-width="0.85" />
<line x1="569.16" y1="64.00" x2="571.96" y2="64.00" stroke="#ea90ea" stroke-width="0.85" />
<line x1="569.16" y1="72.23" x2="571.96" y2="72.23" stroke="#ea90ea" stroke-width="0.85" />
<line x1="574.56" y1="62.91" x2="574.56" y2="70.73" stroke="#ea90ea" stroke-width="0.85" />
<line x1="573.16" y1="62.91" x2="575.96" y2="62.91" stroke="#ea90ea" stroke-width="0.85" />
<line x1="573.16" y1="70.73" x2="575.96" y2="70.73" stroke="#ea90ea" stroke-width="0.85" />
<line x1="578.57" y1="61.68" x2="578.57" y2="69.09" stroke="#ea90ea" stroke-width="0.85" />
<line x1="577.17" y1="61.68" x2="579.97" y2="61.68" stroke="#ea90ea" stroke-width="0.85" />
<line x1="577.17" y1="69.09" x2="579.97" y2="69.09" stroke="#ea90ea" stroke-width="0.85" />
<line x1="582.58" y1="60.27" x2="582.58" y2="67.27" stroke="#ea90ea" stroke-width="0.85" />
<line x1="581.18" y1="60.27" x2="583.98" y2="60.27" stroke="#ea90ea" stroke-width="0.85" />
<line x1="581.18" y1="67.27" x2="583.98" y2="67.27" stroke="#ea90ea" stroke-width="0.85" />
<line x1="586.58" y1="58.64" x2="586.58" y2="65.22" stroke="#ea90ea" stroke-width="0.85" />
<line x1="585.18" y1="58.64" x2="587.98" y2="58.64" stroke="#ea90ea" stroke-width="0.85" />
<line x1="585.18" y1="65.22" x2="587.98" y2="65.22" stroke="#ea90ea" stroke-width="0.85" />
<line x1="590.59" y1="56.62" x2="590.59" y2="63.02" stroke="#ea90ea" stroke-width="0.85" />
<line x1="589.19" y1="56.62" x2="591.99" y2="56.62" stroke="#ea90ea" stroke-width="0.85" />
<line x1="589.19" y1="63.02" x2="591.99" y2="63.02" stroke="#ea90ea" stroke-width="0.85" />
<line x1="594.59" y1="54.32" x2="594.59" y2="60.54" stroke="#ea90ea" stroke-width="0.85" />
<line x1="593.19" y1="54.32" x2="595.99" y2="54.32" stroke="#ea90ea" stroke-width="0.85" />
<line x1="593.19" y1="60.54" x2="595.99" y2="60.54" stroke="#ea90ea" stroke-width="0.85" />
<line x1="598.60" y1="51.77" x2="598.60" y2="57.81" stroke="#ea90ea" stroke-width="0.85" />
<line x1="597.20" y1="51.77" x2="600.00" y2="51.77" stroke="#ea90ea" stroke-width="0.85" />
<line x1="597.20" y1="57.81" x2="600.00" y2="57.81" stroke="#ea90ea" stroke-width="0.85" />
<line x1="602.61" y1="48.96" x2="602.61" y2="54.95" stroke="#ea90ea" stroke-width="0.85" />
<line x1="601.21" y1="48.96" x2="604.01" y2="48.96" stroke="#ea90ea" stroke-width="0.85" />
<line x1="601.21" y1="54.95" x2="604.01" y2="54.95" stroke="#ea90ea" stroke-width="0.85" />
<line x1="606.61" y1="46.00" x2="606.61" y2="51.93" stroke="#ea90ea" stroke-width="0.85" />
<line x1="605.21" y1="46.00" x2="608.01" y2="46.00" stroke="#ea90ea" stroke-width="0.85" />
<line x1="605.21" y1="51.93" x2="608.01" y2="51.93" stroke="#ea90ea" stroke-width="0.85" />
<line x1="610.62" y1="42.93" x2="610.62" y2="48.80" stroke="#ea90ea" stroke-width="0.85" />
<line x1="609.22" y1="42.93" x2="612.02" y2="42.93" stroke="#ea90ea" stroke-width="0.85" />
<line x1="609.22" y1="48.80" x2="612.02" y2="48.80" stroke="#ea90ea" stroke-width="0.85" />
<line x1="614.62" y1="39.80" x2="614.62" y2="45.62" stroke="#ea90ea" stroke-width="0.85" />
<line x1="613.22" y1="39.80" x2="616.02" y2="39.80" stroke="#ea90ea" stroke-width="0.85" />
<line x1="613.22" y1="45.62" x2="616.02" y2="45.62" stroke="#ea90ea" stroke-width="0.85" />
<line x1="618.63" y1="36.66" x2="618.63" y2="42.42" stroke="#ea90ea" stroke-width="0.85" />
<line x1="617.23" y1="36.66" x2="620.03" y2="36.66" stroke="#ea90ea" stroke-width="0.85" />
<line x1="617.23" y1="42.42" x2="620.03" y2="42.42" stroke="#ea90ea" stroke-width="0.85" />
<line x1="622.64" y1="33.55" x2="622.64" y2="39.25" stroke="#ea90ea" stroke-width="0.85" />
<line x1="621.24" y1="33.55" x2="624.04" y2="33.55" stroke="#ea90ea" stroke-width="0.85" />
<line x1="621.24" y1="39.25" x2="624.04" y2="39.25" stroke="#ea90ea" stroke-width="0.85" />
<line x1="626.64" y1="30.52" x2="626.64" y2="36.17" stroke="#ea90ea" stroke-width="0.85" />
<line x1="625.24" y1="30.52" x2="628.04" y2="30.52" stroke="#ea90ea" stroke-width="0.85" />
<line x1="625.24" y1="36.17" x2="628.04" y2="36.17" stroke="#ea90ea" stroke-width="0.85" />
<line x1="630.65" y1="27.61" x2="630.65" y2="33.21" stroke="#ea90ea" stroke-width="0.85" />
<line x1="629.25" y1="27.61" x2="632.05" y2="27.61" stroke="#ea90ea" stroke-width="0.85" />
<line x1="629.25" y1="33.21" x2="632.05" y2="33.21" stroke="#ea90ea" stroke-width="0.85" />
<line x1="634.65" y1="24.88" x2="634.65" y2="30.42" stroke="#ea90ea" stroke-width="0.85" />
<line x1="633.25" y1="24.88" x2="636.05" y2="24.88" stroke="#ea90ea" stroke-width="0.85" />
<line x1="633.25" y1="30.42" x2="636.05" y2="30.42" stroke="#ea90ea" stroke-width="0.85" />
<line x1="638.66" y1="22.37" x2="638.66" y2="27.86" stroke="#ea90ea" stroke-width="0.85" />
<line x1="637.26" y1="22.37" x2="640.06" y2="22.37" stroke="#ea90ea" stroke-width="0.85" />
<line x1="637.26" y1="27.86" x2="640.06" y2="27.86" stroke="#ea90ea" stroke-width="0.85" />
<line x1="402.31" y1="143.24" x2="402.31" y2="145.62" stroke="#9090e8" stroke-width="0.85" />
<line x1="400.91" y1="143.24" x2="403.71" y2="143.24" stroke="#9090e8" stroke-width="0.85" />
<line x1="400.91" y1="145.62" x2="403.71" y2="145.62" stroke="#9090e8" stroke-width="0.85" />
<line x1="406.31" y1="141.11" x2="406.31" y2="143.69" stroke="#9090e8" stroke-width="0.85" />
<line x1="404.91" y1="141.11" x2="407.71" y2="141.11" stroke="#9090e8" stroke-width="0.85" />
<line x1="404.91" y1="143.69" x2="407.71" y2="143.69" stroke="#9090e8" stroke-width="0.85" />
<line x1="410.32" y1="139.42" x2="410.32" y2="142.19" stroke="#9090e8" stroke-width="0.85" />
<line x1="408.92" y1="139.42" x2="411.72" y2="139.42" stroke="#9090e8" stroke-width="0.85" />
<line x1="408.92" y1="142.19" x2="411.72" y2="142.19" stroke="#9090e8" stroke-width="0.85" />
<line x1="414.32" y1="137.86" x2="414.32" y2="140.82" stroke="#9090e8" stroke-width="0.85" />
<line x1="412.92" y1="137.86" x2="415.72" y2="137.86" stroke="#9090e8" stroke-width="0.85" />
<line x1="412.92" y1="140.82" x2="415.72" y2="140.82" stroke="#9090e8" stroke-width="0.85" />
<line x1="418.33" y1="136.41" x2="418.33" y2="139.57" stroke="#9090e8" stroke-width="0.85" />
<line x1="416.93" y1="136.41" x2="419.73" y2="136.41" stroke="#9090e8" stroke-width="0.85" />
<line x1="416.93" y1="139.57" x2="419.73" y2="139.57" stroke="#9090e8" stroke-width="0.85" />
<line x1="422.34" y1="135.06" x2="422.34" y2="138.41" stroke="#9090e8" stroke-width="0.85" />
<line x1="420.94" y1="135.06" x2="423.74" y2="135.06" stroke="#9090e8" stroke-width="0.85" />
<line x1="420.94" y1="138.41" x2="423.74" y2="138.41" stroke="#9090e8" stroke-width="0.85" />
<line x1="426.34" y1="133.81" x2="426.34" y2="137.35" stroke="#9090e8" stroke-width="0.85" />
<line x1="424.94" y1="133.81" x2="427.74" y2="133.81" stroke="#9090e8" stroke-width="0.85" />
<line x1="424.94" y1="137.35" x2="427.74" y2="137.35" stroke="#9090e8" stroke-width="0.85" />
<line x1="430.35" y1="132.62" x2="430.35" y2="136.35" stroke="#9090e8" stroke-width="0.85" />
<line x1="428.95" y1="132.62" x2="431.75" y2="132.62" stroke="#9090e8" stroke-width="0.85" />
<line x1="428.95" y1="136.35" x2="431.75" y2="136.35" stroke="#9090e8" stroke-width="0.85" />
<line x1="434.35" y1="131.49" x2="434.35" y2="135.41" stroke="#9090e8" stroke-width="0.85" />
<line x1="432.95" y1="131.49" x2="435.75" y2="131.49" stroke="#9090e8" stroke-width="0.85" />
<line x1="432.95" y1="135.41" x2="435.75" y2="135.41" stroke="#9090e8" stroke-width="0.85" />
<line x1="438.36" y1="130.40" x2="438.36" y2="134.52" stroke="#9090e8" stroke-width="0.85" />
<line x1="436.96" y1="130.40" x2="439.76" y2="130.40" stroke="#9090e8" stroke-width="0.85" />
<line x1="436.96" y1="134.52" x2="439.76" y2="134.52" stroke="#9090e8" stroke-width="0.85" />
<line x1="442.37" y1="129.44" x2="442.37" y2="133.56" stroke="#9090e8" stroke-width="0.85" />
<line x1="440.97" y1="129.44" x2="443.77" y2="129.44" stroke="#9090e8" stroke-width="0.85" />
<line x1="440.97" y1="133.56" x2="443.77" y2="133.56" stroke="#9090e8" stroke-width="0.85" />
<line x1="446.37" y1="128.48" x2="446.37" y2="132.62" stroke="#9090e8" stroke-width="0.85" />
<line x1="444.97" y1="128.48" x2="447.77" y2="128.48" stroke="#9090e8" stroke-width="0.85" />
<line x1="444.97" y1="132.62" x2="447.77" y2="132.62" stroke="#9090e8" stroke-width="0.85" />
<line x1="450.38" y1="127.51" x2="450.38" y2="131.66" stroke="#9090e8" stroke-width="0.85" />
<line x1="448.98" y1="127.51" x2="451.78" y2="127.51" stroke="#9090e8" stroke-width="0.85" />
<line x1="448.98" y1="131.66" x2="451.78" y2="131.66" stroke="#9090e8" stroke-width="0.85" />
<line x1="454.38" y1="126.51" x2="454.38" y2="130.67" stroke="#9090e8" stroke-width="0.85" />
<line x1="452.98" y1="126.51" x2="455.78" y2="126.51" stroke="#9090e8" stroke-width="0.85" />
<line x1="452.98" y1="130.67" x2="455.78" y2="130.67" stroke="#9090e8" stroke-width="0.85" />
<line x1="458.39" y1="125.46" x2="458.39" y2="129.63" stroke="#9090e8" stroke-width="0.85" />
<line x1="456.99" y1="125.46" x2="459.79" y2="125.46" stroke="#9090e8" stroke-width="0.85" />
<line x1="456.99" y1="129.63" x2="459.79" y2="129.63" stroke="#9090e8" stroke-width="0.85" />
<line x1="462.40" y1="124.33" x2="462.40" y2="128.52" stroke="#9090e8" stroke-width="0.85" />
<line x1="461.00" y1="124.33" x2="463.80" y2="124.33" stroke="#9090e8" stroke-width="0.85" />
<line x1="461.00" y1="128.52" x2="463.80" y2="128.52" stroke="#9090e8" stroke-width="0.85" />
<line x1="466.40" y1="123.15" x2="466.40" y2="127.34" stroke="#9090e8" stroke-width="0.85" />
<line x1="465.00" y1="123.15" x2="467.80" y2="123.15" stroke="#9090e8" stroke-width="0.85" />
<line x1="465.00" y1="127.34" x2="467.80" y2="127.34" stroke="#9090e8" stroke-width="0.85" />
<line x1="470.41" y1="121.90" x2="470.41" y2="126.11" stroke="#9090e8" stroke-width="0.85" />
<line x1="469.01" y1="121.90" x2="471.81" y2="121.90" stroke="#9090e8" stroke-width="0.85" />
<line x1="469.01" y1="126.11" x2="471.81" y2="126.11" stroke="#9090e8" stroke-width="0.85" />
<line x1="474.41" y1="120.62" x2="474.41" y2="124.84" stroke="#9090e8" stroke-width="0.85" />
<line x1="473.01" y1="120.62" x2="475.81" y2="120.62" stroke="#9090e8" stroke-width="0.85" />
<line x1="473.01" y1="124.84" x2="475.81" y2="124.84" stroke="#9090e8" stroke-width="0.85" />
<line x1="478.42" y1="119.31" x2="478.42" y2="123.54" stroke="#9090e8" stroke-width="0.85" />
<line x1="477.02" y1="119.31" x2="479.82" y2="119.31" stroke="#9090e8" stroke-width="0.85" />
<line x1="477.02" y1="123.54" x2="479.82" y2="123.54" stroke="#9090e8" stroke-width="0.85" />
<line x1="482.43" y1="117.99" x2="482.43" y2="122.22" stroke="#9090e8" stroke-width="0.85" />
<line x1="481.03" y1="117.99" x2="483.83" y2="117.99" stroke="#9090e8" stroke-width="0.85" />
<line x1="481.03" y1="122.22" x2="483.83" y2="122.22" stroke="#9090e8" stroke-width="0.85" />
<line x1="486.43" y1="116.66" x2="486.43" y2="120.91" stroke="#9090e8" stroke-width="0.85" />
<line x1="485.03" y1="116.66" x2="487.83" y2="116.66" stroke="#9090e8" stroke-width="0.85" />
<line x1="485.03" y1="120.91" x2="487.83" y2="120.91" stroke="#9090e8" stroke-width="0.85" />
<line x1="490.44" y1="115.34" x2="490.44" y2="119.60" stroke="#9090e8" stroke-width="0.85" />
<line x1="489.04" y1="115.34" x2="491.84" y2="115.34" stroke="#9090e8" stroke-width="0.85" />
<line x1="489.04" y1="119.60" x2="491.84" y2="119.60" stroke="#9090e8" stroke-width="0.85" />
<line x1="494.44" y1="114.02" x2="494.44" y2="118.29" stroke="#9090e8" stroke-width="0.85" />
<line x1="493.04" y1="114.02" x2="495.84" y2="114.02" stroke="#9090e8" stroke-width="0.85" />
<line x1="493.04" y1="118.29" x2="495.84" y2="118.29" stroke="#9090e8" stroke-width="0.85" />
<line x1="498.45" y1="112.69" x2="498.45" y2="116.98" stroke="#9090e8" stroke-width="0.85" />
<line x1="497.05" y1="112.69" x2="499.85" y2="112.69" stroke="#9090e8" stroke-width="0.85" />
<line x1="497.05" y1="116.98" x2="499.85" y2="116.98" stroke="#9090e8" stroke-width="0.85" />
<line x1="502.46" y1="111.37" x2="502.46" y2="115.66" stroke="#9090e8" stroke-width="0.85" />
<line x1="501.06" y1="111.37" x2="503.86" y2="111.37" stroke="#9090e8" stroke-width="0.85" />
<line x1="501.06" y1="115.66" x2="503.86" y2="115.66" stroke="#9090e8" stroke-width="0.85" />
<line x1="506.46" y1="110.04" x2="506.46" y2="114.34" stroke="#9090e8" stroke-width="0.85" />
<line x1="505.06" y1="110.04" x2="507.86" y2="110.04" stroke="#9090e8" stroke-width="0.85" />
<line x1="505.06" y1="114.34" x2="507.86" y2="114.34" stroke="#9090e8" stroke-width="0.85" />
<line x1="510.47" y1="108.70" x2="510.47" y2="113.01" stroke="#9090e8" stroke-width="0.85" />
<line x1="509.07" y1="108.70" x2="511.87" y2="108.70" stroke="#9090e8" stroke-width="0.85" />
<line x1="509.07" y1="113.01" x2="511.87" y2="113.01" stroke="#9090e8" stroke-width="0.85" />
<line x1="514.47" y1="107.35" x2="514.47" y2="111.67" stroke="#9090e8" stroke-width="0.85" />
<line x1="513.07" y1="107.35" x2="515.87" y2="107.35" stroke="#9090e8" stroke-width="0.85" />
<line x1="513.07" y1="111.67" x2="515.87" y2="111.67" stroke="#9090e8" stroke-width="0.85" />
<line x1="518.48" y1="105.98" x2="518.48" y2="110.32" stroke="#9090e8" stroke-width="0.85" />
<line x1="517.08" y1="105.98" x2="519.88" y2="105.98" stroke="#9090e8" stroke-width="0.85" />
<line x1="517.08" y1="110.32" x2="519.88" y2="110.32" stroke="#9090e8" stroke-width="0.85" />
<line x1="522.49" y1="104.61" x2="522.49" y2="108.95" stroke="#9090e8" stroke-width="0.85" />
<line x1="521.09" y1="104.61" x2="523.89" y2="104.61" stroke="#9090e8" stroke-width="0.85" />
<line x1="521.09" y1="108.95" x2="523.89" y2="108.95" stroke="#9090e8" stroke-width="0.85" />
<line x1="526.49" y1="103.21" x2="526.49" y2="107.57" stroke="#9090e8" stroke-width="0.85" />
<line x1="525.09" y1="103.21" x2="527.89" y2="103.21" stroke="#9090e8" stroke-width="0.85" />
<line x1="525.09" y1="107.57" x2="527.89" y2="107.57" stroke="#9090e8" stroke-width="0.85" />
<line x1="530.50" y1="101.79" x2="530.50" y2="106.16" stroke="#9090e8" stroke-width="0.85" />
<line x1="529.10" y1="101.79" x2="531.90" y2="101.79" stroke="#9090e8" stroke-width="0.85" />
<line x1="529.10" y1="106.16" x2="531.90" y2="106.16" stroke="#9090e8" stroke-width="0.85" />
<line x1="534.50" y1="100.36" x2="534.50" y2="104.73" stroke="#9090e8" stroke-width="0.85" />
<line x1="533.10" y1="100.36" x2="535.90" y2="100.36" stroke="#9090e8" stroke-width="0.85" />
<line x1="533.10" y1="104.73" x2="535.90" y2="104.73" stroke="#9090e8" stroke-width="0.85" />
<line x1="538.51" y1="98.89" x2="538.51" y2="103.28" stroke="#9090e8" stroke-width="0.85" />
<line x1="537.11" y1="98.89" x2="539.91" y2="98.89" stroke="#9090e8" stroke-width="0.85" />
<line x1="537.11" y1="103.28" x2="539.91" y2="103.28" stroke="#9090e8" stroke-width="0.85" />
<line x1="542.52" y1="97.40" x2="542.52" y2="101.80" stroke="#9090e8" stroke-width="0.85" />
<line x1="541.12" y1="97.40" x2="543.92" y2="97.40" stroke="#9090e8" stroke-width="0.85" />
<line x1="541.12" y1="101.80" x2="543.92" y2="101.80" stroke="#9090e8" stroke-width="0.85" />
<line x1="546.52" y1="95.88" x2="546.52" y2="100.29" stroke="#9090e8" stroke-width="0.85" />
<line x1="545.12" y1="95.88" x2="547.92" y2="95.88" stroke="#9090e8" stroke-width="0.85" />
<line x1="545.12" y1="100.29" x2="547.92" y2="100.29" stroke="#9090e8" stroke-width="0.85" />
<line x1="550.53" y1="94.33" x2="550.53" y2="98.75" stroke="#9090e8" stroke-width="0.85" />
<line x1="549.13" y1="94.33" x2="551.93" y2="94.33" stroke="#9090e8" stroke-width="0.85" />
<line x1="549.13" y1="98.75" x2="551.93" y2="98.75" stroke="#9090e8" stroke-width="0.85" />
<line x1="554.53" y1="92.74" x2="554.53" y2="97.17" stroke="#9090e8" stroke-width="0.85" />
<line x1="553.13" y1="92.74" x2="555.93" y2="92.74" stroke="#9090e8" stroke-width="0.85" />
<line x1="553.13" y1="97.17" x2="555.93" y2="97.17" stroke="#9090e8" stroke-width="0.85" />
<line x1="558.54" y1="91.11" x2="558.54" y2="95.56" stroke="#9090e8" stroke-width="0.85" />
<line x1="557.14" y1="91.11" x2="559.94" y2="91.11" stroke="#9090e8" stroke-width="0.85" />
<line x1="557.14" y1="95.56" x2="559.94" y2="95.56" stroke="#9090e8" stroke-width="0.85" />
<line x1="562.55" y1="89.45" x2="562.55" y2="93.91" stroke="#9090e8" stroke-width="0.85" />
<line x1="561.15" y1="89.45" x2="563.95" y2="89.45" stroke="#9090e8" stroke-width="0.85" />
<line x1="561.15" y1="93.91" x2="563.95" y2="93.91" stroke="#9090e8" stroke-width="0.85" />
<line x1="566.55" y1="87.74" x2="566.55" y2="92.21" stroke="#9090e8" stroke-width="0.85" />
<line x1="565.15" y1="87.74" x2="567.95" y2="87.74" stroke="#9090e8" stroke-width="0.85" />
<line x1="565.15" y1="92.21" x2="567.95" y2="92.21" stroke="#9090e8" stroke-width="0.85" />
<line x1="570.56" y1="85.99" x2="570.56" y2="90.47" stroke="#9090e8" stroke-width="0.85" />
<line x1="569.16" y1="85.99" x2="571.96" y2="85.99" stroke="#9090e8" stroke-width="0.85" />
<line x1="569.16" y1="90.47" x2="571.96" y2="90.47" stroke="#9090e8" stroke-width="0.85" />
<line x1="574.56" y1="84.20" x2="574.56" y2="88.69" stroke="#9090e8" stroke-width="0.85" />
<line x1="573.16" y1="84.20" x2="575.96" y2="84.20" stroke="#9090e8" stroke-width="0.85" />
<line x1="573.16" y1="88.69" x2="575.96" y2="88.69" stroke="#9090e8" stroke-width="0.85" />
<line x1="578.57" y1="82.35" x2="578.57" y2="86.85" stroke="#9090e8" stroke-width="0.85" />
<line x1="577.17" y1="82.35" x2="579.97" y2="82.35" stroke="#9090e8" stroke-width="0.85" />
<line x1="577.17" y1="86.85" x2="579.97" y2="86.85" stroke="#9090e8" stroke-width="0.85" />
<line x1="582.58" y1="80.45" x2="582.58" y2="84.96" stroke="#9090e8" stroke-width="0.85" />
<line x1="581.18" y1="80.45" x2="583.98" y2="80.45" stroke="#9090e8" stroke-width="0.85" />
<line x1="581.18" y1="84.96" x2="583.98" y2="84.96" stroke="#9090e8" stroke-width="0.85" />
<line x1="586.58" y1="78.47" x2="586.58" y2="82.99" stroke="#9090e8" stroke-width="0.85" />
<line x1="585.18" y1="78.47" x2="587.98" y2="78.47" stroke="#9090e8" stroke-width="0.85" />
<line x1="585.18" y1="82.99" x2="587.98" y2="82.99" stroke="#9090e8" stroke-width="0.85" />
<line x1="590.59" y1="76.41" x2="590.59" y2="80.94" stroke="#9090e8" stroke-width="0.85" />
<line x1="589.19" y1="76.41" x2="591.99" y2="76.41" stroke="#9090e8" stroke-width="0.85" />
<line x1="589.19" y1="80.94" x2="591.99" y2="80.94" stroke="#9090e8" stroke-width="0.85" />
<line x1="594.59" y1="74.26" x2="594.59" y2="78.81" stroke="#9090e8" stroke-width="0.85" />
<line x1="593.19" y1="74.26" x2="595.99" y2="74.26" stroke="#9090e8" stroke-width="0.85" />
<line x1="593.19" y1="78.81" x2="595.99" y2="78.81" stroke="#9090e8" stroke-width="0.85" />
<line x1="598.60" y1="72.01" x2="598.60" y2="76.56" stroke="#9090e8" stroke-width="0.85" />
<line x1="597.20" y1="72.01" x2="600.00" y2="72.01" stroke="#9090e8" stroke-width="0.85" />
<line x1="597.20" y1="76.56" x2="600.00" y2="76.56" stroke="#9090e8" stroke-width="0.85" />
<line x1="602.61" y1="69.64" x2="602.61" y2="74.21" stroke="#9090e8" stroke-width="0.85" />
<line x1="601.21" y1="69.64" x2="604.01" y2="69.64" stroke="#9090e8" stroke-width="0.85" />
<line x1="601.21" y1="74.21" x2="604.01" y2="74.21" stroke="#9090e8" stroke-width="0.85" />
<line x1="606.61" y1="67.15" x2="606.61" y2="71.72" stroke="#9090e8" stroke-width="0.85" />
<line x1="605.21" y1="67.15" x2="608.01" y2="67.15" stroke="#9090e8" stroke-width="0.85" />
<line x1="605.21" y1="71.72" x2="608.01" y2="71.72" stroke="#9090e8" stroke-width="0.85" />
<line x1="610.62" y1="64.53" x2="610.62" y2="69.11" stroke="#9090e8" stroke-width="0.85" />
<line x1="609.22" y1="64.53" x2="612.02" y2="64.53" stroke="#9090e8" stroke-width="0.85" />
<line x1="609.22" y1="69.11" x2="612.02" y2="69.11" stroke="#9090e8" stroke-width="0.85" />
<line x1="614.62" y1="61.80" x2="614.62" y2="66.39" stroke="#9090e8" stroke-width="0.85" />
<line x1="613.22" y1="61.80" x2="616.02" y2="61.80" stroke="#9090e8" stroke-width="0.85" />
<line x1="613.22" y1="66.39" x2="616.02" y2="66.39" stroke="#9090e8" stroke-width="0.85" />
<line x1="618.63" y1="58.98" x2="618.63" y2="63.59" stroke="#9090e8" stroke-width="0.85" />
<line x1="617.23" y1="58.98" x2="620.03" y2="58.98" stroke="#9090e8" stroke-width="0.85" />
<line x1="617.23" y1="63.59" x2="620.03" y2="63.59" stroke="#9090e8" stroke-width="0.85" />
<line x1="622.64" y1="56.10" x2="622.64" y2="60.72" stroke="#9090e8" stroke-width="0.85" />
<line x1="621.24" y1="56.10" x2="624.04" y2="56.10" stroke="#9090e8" stroke-width="0.85" />
<line x1="621.24" y1="60.72" x2="624.04" y2="60.72" stroke="#9090e8" stroke-width="0.85" />
<line x1="626.64" y1="53.18" x2="626.64" y2="57.81" stroke="#9090e8" stroke-width="0.85" />
<line x1="625.24" y1="53.18" x2="628.04" y2="53.18" stroke="#9090e8" stroke-width="0.85" />
<line x1="625.24" y1="57.81" x2="628.04" y2="57.81" stroke="#9090e8" stroke-width="0.85" />
<line x1="630.65" y1="50.24" x2="630.65" y2="54.88" stroke="#9090e8" stroke-width="0.85" />
<line x1="629.25" y1="50.24" x2="632.05" y2="50.24" stroke="#9090e8" stroke-width="0.85" />
<line x1="629.25" y1="54.88" x2="632.05" y2="54.88" stroke="#9090e8" stroke-width="0.85" />
<line x1="634.65" y1="47.30" x2="634.65" y2="51.95" stroke="#9090e8" stroke-width="0.85" />
<line x1="633.25" y1="47.30" x2="636.05" y2="47.30" stroke="#9090e8" stroke-width="0.85" />
<line x1="633.25" y1="51.95" x2="636.05" y2="51.95" stroke="#9090e8" stroke-width="0.85" />
<line x1="638.66" y1="44.39" x2="638.66" y2="49.05" stroke="#9090e8" stroke-width="0.85" />
<line x1="637.26" y1="44.39" x2="640.06" y2="44.39" stroke="#9090e8" stroke-width="0.85" />
<line x1="637.26" y1="49.05" x2="640.06" y2="49.05" stroke="#9090e8" stroke-width="0.85" />
<path d="M398.30,152.60 C398.67,151.59 399.77,148.00 400.50,146.56 C401.24,145.12 402.17,144.47 402.71,143.96 C403.24,143.45 403.37,143.66 403.71,143.51 C404.04,143.36 404.38,143.22 404.71,143.08 C405.04,142.93 405.38,142.79 405.71,142.65 C406.04,142.51 406.38,142.37 406.71,142.23 C407.05,142.09 407.38,141.96 407.71,141.82 C408.05,141.69 408.38,141.56 408.72,141.42 C409.05,141.29 409.38,141.16 409.72,141.03 C410.05,140.90 410.38,140.78 410.72,140.65 C411.05,140.52 411.39,140.40 411.72,140.28 C412.05,140.15 412.39,140.03 412.72,139.91 C413.06,139.79 413.39,139.67 413.72,139.55 C414.06,139.43 414.39,139.31 414.72,139.20 C415.06,139.08 415.39,138.97 415.73,138.85 C416.06,138.74 416.39,138.63 416.73,138.51 C417.06,138.40 417.40,138.29 417.73,138.18 C418.06,138.07 418.40,137.96 418.73,137.86 C419.06,137.75 419.40,137.64 419.73,137.54 C420.07,137.43 420.40,137.33 420.73,137.23 C421.07,137.12 421.40,137.02 421.74,136.92 C422.07,136.82 422.40,136.72 422.74,136.62 C423.07,136.52 423.40,136.42 423.74,136.32 C424.07,136.22 424.41,136.13 424.74,136.03 C425.07,135.93 425.41,135.84 425.74,135.74 C426.07,135.65 426.41,135.56 426.74,135.46 C427.08,135.37 427.41,135.28 427.74,135.19 C428.08,135.09 428.41,135.00 428.75,134.91 C429.08,134.82 429.41,134.73 429.75,134.64 C430.08,134.56 430.41,134.47 430.75,134.38 C431.08,134.29 431.42,134.20 431.75,134.12 C432.08,134.03 432.42,133.94 432.75,133.86 C433.09,133.77 433.42,133.69 433.75,133.60 C434.09,133.52 434.42,133.43 434.75,133.35 C435.09,133.27 435.42,133.18 435.76,133.10 C436.09,133.02 436.42,132.94 436.76,132.85 C437.09,132.77 437.43,132.69 437.76,132.61 C438.09,132.53 438.43,132.45 438.76,132.36 C439.09,132.28 439.43,132.20 439.76,132.12 C440.10,132.04 440.43,131.96 440.76,131.88 C441.10,131.80 441.43,131.72 441.77,131.64 C442.10,131.56 442.43,131.48 442.77,131.40 C443.10,131.33 443.43,131.25 443.77,131.17 C444.10,131.09 444.44,131.01 444.77,130.93 C445.10,130.85 445.44,130.77 445.77,130.69 C446.10,130.61 446.44,130.53 446.77,130.45 C447.11,130.37 447.44,130.29 447.77,130.21 C448.11,130.13 448.44,130.05 448.78,129.97 C449.11,129.89 449.44,129.81 449.78,129.73 C450.11,129.65 450.44,129.57 450.78,129.49 C451.11,129.41 451.45,129.32 451.78,129.24 C452.11,129.16 452.45,129.08 452.78,128.99 C453.12,128.91 453.45,128.83 453.78,128.74 C454.12,128.66 454.45,128.57 454.78,128.49 C455.12,128.40 455.45,128.32 455.79,128.23 C456.12,128.14 456.45,128.06 456.79,127.97 C457.12,127.88 457.46,127.79 457.79,127.70 C458.12,127.61 458.46,127.52 458.79,127.43 C459.12,127.34 459.46,127.25 459.79,127.16 C460.13,127.07 460.46,126.97 460.79,126.88 C461.13,126.79 461.46,126.69 461.80,126.60 C462.13,126.50 462.46,126.41 462.80,126.31 C463.13,126.21 463.46,126.12 463.80,126.02 C464.13,125.92 464.47,125.82 464.80,125.72 C465.13,125.62 465.47,125.52 465.80,125.42 C466.13,125.32 466.47,125.22 466.80,125.12 C467.14,125.02 467.47,124.92 467.80,124.82 C468.14,124.71 468.47,124.61 468.81,124.51 C469.14,124.40 469.47,124.30 469.81,124.19 C470.14,124.09 470.47,123.98 470.81,123.88 C471.14,123.77 471.48,123.67 471.81,123.56 C472.14,123.46 472.48,123.35 472.81,123.24 C473.15,123.14 473.48,123.03 473.81,122.92 C474.15,122.81 474.48,122.71 474.81,122.60 C475.15,122.49 475.48,122.38 475.82,122.27 C476.15,122.17 476.48,122.06 476.82,121.95 C477.15,121.84 477.49,121.73 477.82,121.62 C478.15,121.51 478.49,121.40 478.82,121.29 C479.15,121.18 479.49,121.07 479.82,120.96 C480.16,120.85 480.49,120.74 480.82,120.63 C481.16,120.52 481.49,120.41 481.83,120.30 C482.16,120.19 482.49,120.08 482.83,119.97 C483.16,119.86 483.49,119.75 483.83,119.64 C484.16,119.53 484.50,119.42 484.83,119.31 C485.16,119.20 485.50,119.09 485.83,118.98 C486.16,118.87 486.50,118.76 486.83,118.65 C487.17,118.54 487.50,118.43 487.83,118.32 C488.17,118.21 488.50,118.10 488.84,117.99 C489.17,117.88 489.50,117.77 489.84,117.66 C490.17,117.56 490.50,117.45 490.84,117.34 C491.17,117.23 491.51,117.12 491.84,117.01 C492.17,116.90 492.51,116.79 492.84,116.68 C493.18,116.57 493.51,116.46 493.84,116.35 C494.18,116.24 494.51,116.13 494.84,116.02 C495.18,115.91 495.51,115.80 495.85,115.69 C496.18,115.58 496.51,115.47 496.85,115.36 C497.18,115.25 497.52,115.14 497.85,115.03 C498.18,114.92 498.52,114.81 498.85,114.70 C499.18,114.59 499.52,114.48 499.85,114.37 C500.19,114.26 500.52,114.15 500.85,114.04 C501.19,113.93 501.52,113.82 501.86,113.71 C502.19,113.60 502.52,113.49 502.86,113.38 C503.19,113.27 503.52,113.16 503.86,113.05 C504.19,112.94 504.53,112.83 504.86,112.72 C505.19,112.61 505.53,112.50 505.86,112.39 C506.19,112.28 506.53,112.17 506.86,112.06 C507.20,111.95 507.53,111.83 507.86,111.72 C508.20,111.61 508.53,111.50 508.87,111.39 C509.20,111.28 509.53,111.17 509.87,111.06 C510.20,110.94 510.53,110.83 510.87,110.72 C511.20,110.61 511.54,110.50 511.87,110.39 C512.20,110.27 512.54,110.16 512.87,110.05 C513.21,109.94 513.54,109.83 513.87,109.71 C514.21,109.60 514.54,109.49 514.87,109.38 C515.21,109.26 515.54,109.15 515.88,109.04 C516.21,108.92 516.54,108.81 516.88,108.70 C517.21,108.58 517.55,108.47 517.88,108.36 C518.21,108.24 518.55,108.13 518.88,108.02 C519.21,107.90 519.55,107.79 519.88,107.67 C520.22,107.56 520.55,107.45 520.88,107.33 C521.22,107.22 521.55,107.10 521.89,106.99 C522.22,106.87 522.55,106.76 522.89,106.64 C523.22,106.53 523.55,106.41 523.89,106.30 C524.22,106.18 524.56,106.06 524.89,105.95 C525.22,105.83 525.56,105.72 525.89,105.60 C526.22,105.48 526.56,105.37 526.89,105.25 C527.23,105.13 527.56,105.02 527.89,104.90 C528.23,104.78 528.56,104.66 528.90,104.55 C529.23,104.43 529.56,104.31 529.90,104.19 C530.23,104.07 530.56,103.95 530.90,103.84 C531.23,103.72 531.57,103.60 531.90,103.48 C532.23,103.36 532.57,103.24 532.90,103.12 C533.24,103.00 533.57,102.88 533.90,102.76 C534.24,102.64 534.57,102.52 534.90,102.40 C535.24,102.28 535.57,102.16 535.91,102.04 C536.24,101.92 536.57,101.79 536.91,101.67 C537.24,101.55 537.58,101.43 537.91,101.31 C538.24,101.18 538.58,101.06 538.91,100.94 C539.24,100.82 539.58,100.69 539.91,100.57 C540.25,100.45 540.58,100.32 540.91,100.20 C541.25,100.07 541.58,99.95 541.92,99.83 C542.25,99.70 542.58,99.58 542.92,99.45 C543.25,99.33 543.58,99.20 543.92,99.07 C544.25,98.95 544.59,98.82 544.92,98.70 C545.25,98.57 545.59,98.44 545.92,98.31 C546.25,98.19 546.59,98.06 546.92,97.93 C547.26,97.80 547.59,97.68 547.92,97.55 C548.26,97.42 548.59,97.29 548.93,97.16 C549.26,97.03 549.59,96.90 549.93,96.77 C550.26,96.64 550.59,96.51 550.93,96.38 C551.26,96.25 551.60,96.12 551.93,95.99 C552.26,95.86 552.60,95.73 552.93,95.59 C553.27,95.46 553.60,95.33 553.93,95.20 C554.27,95.06 554.60,94.93 554.93,94.80 C555.27,94.66 555.60,94.53 555.94,94.39 C556.27,94.26 556.60,94.12 556.94,93.99 C557.27,93.85 557.61,93.72 557.94,93.58 C558.27,93.45 558.61,93.31 558.94,93.17 C559.27,93.04 559.61,92.90 559.94,92.76 C560.28,92.62 560.61,92.48 560.94,92.35 C561.28,92.21 561.61,92.07 561.95,91.93 C562.28,91.79 562.61,91.65 562.95,91.51 C563.28,91.37 563.61,91.23 563.95,91.09 C564.28,90.95 564.62,90.81 564.95,90.66 C565.28,90.52 565.62,90.38 565.95,90.24 C566.28,90.09 566.62,89.95 566.95,89.81 C567.29,89.66 567.62,89.52 567.95,89.37 C568.29,89.23 568.62,89.08 568.96,88.94 C569.29,88.79 569.62,88.64 569.96,88.50 C570.29,88.35 570.62,88.20 570.96,88.06 C571.29,87.91 571.63,87.76 571.96,87.61 C572.29,87.46 572.63,87.31 572.96,87.16 C573.30,87.01 573.63,86.86 573.96,86.71 C574.30,86.56 574.63,86.41 574.96,86.26 C575.30,86.11 575.63,85.96 575.97,85.80 C576.30,85.65 576.63,85.50 576.97,85.34 C577.30,85.19 577.64,85.04 577.97,84.88 C578.30,84.73 578.64,84.57 578.97,84.41 C579.30,84.26 579.64,84.10 579.97,83.94 C580.31,83.79 580.64,83.63 580.97,83.47 C581.31,83.31 581.64,83.15 581.98,82.99 C582.31,82.83 582.64,82.67 582.98,82.51 C583.31,82.35 583.64,82.18 583.98,82.02 C584.31,81.86 584.65,81.69 584.98,81.53 C585.31,81.36 585.65,81.20 585.98,81.03 C586.31,80.86 586.65,80.70 586.98,80.53 C587.32,80.36 587.65,80.19 587.98,80.02 C588.32,79.85 588.65,79.68 588.99,79.51 C589.32,79.34 589.65,79.17 589.99,78.99 C590.32,78.82 590.65,78.64 590.99,78.47 C591.32,78.29 591.66,78.12 591.99,77.94 C592.32,77.76 592.66,77.58 592.99,77.40 C593.33,77.22 593.66,77.04 593.99,76.86 C594.33,76.68 594.66,76.50 594.99,76.31 C595.33,76.13 595.66,75.95 596.00,75.76 C596.33,75.57 596.66,75.39 597.00,75.20 C597.33,75.01 597.67,74.82 598.00,74.63 C598.33,74.44 598.67,74.25 599.00,74.06 C599.33,73.86 599.67,73.67 600.00,73.47 C600.34,73.28 600.67,73.08 601.00,72.88 C601.34,72.69 601.67,72.49 602.01,72.29 C602.34,72.09 602.67,71.89 603.01,71.68 C603.34,71.48 603.67,71.27 604.01,71.07 C604.34,70.86 604.68,70.66 605.01,70.45 C605.34,70.24 605.68,70.03 606.01,69.82 C606.34,69.61 606.68,69.40 607.01,69.18 C607.35,68.97 607.68,68.75 608.01,68.54 C608.35,68.32 608.68,68.10 609.02,67.88 C609.35,67.66 609.68,67.44 610.02,67.22 C610.35,67.00 610.68,66.78 611.02,66.55 C611.35,66.33 611.69,66.10 612.02,65.88 C612.35,65.65 612.69,65.43 613.02,65.20 C613.36,64.97 613.69,64.74 614.02,64.51 C614.36,64.28 614.69,64.05 615.02,63.82 C615.36,63.59 615.69,63.35 616.03,63.12 C616.36,62.89 616.69,62.65 617.03,62.42 C617.36,62.18 617.70,61.95 618.03,61.71 C618.36,61.47 618.70,61.24 619.03,61.00 C619.36,60.76 619.70,60.52 620.03,60.28 C620.37,60.05 620.70,59.81 621.03,59.57 C621.37,59.33 621.70,59.08 622.04,58.84 C622.37,58.60 622.70,58.36 623.04,58.12 C623.37,57.88 623.70,57.63 624.04,57.39 C624.37,57.15 624.71,56.91 625.04,56.66 C625.37,56.42 625.71,56.18 626.04,55.93 C626.37,55.69 626.71,55.44 627.04,55.20 C627.38,54.96 627.71,54.71 628.04,54.47 C628.38,54.22 628.71,53.98 629.05,53.73 C629.38,53.49 629.71,53.24 630.05,53.00 C630.38,52.75 630.71,52.51 631.05,52.26 C631.38,52.02 631.72,51.77 632.05,51.53 C632.38,51.29 632.72,51.04 633.05,50.80 C633.39,50.55 633.72,50.31 634.05,50.06 C634.39,49.82 634.72,49.58 635.05,49.33 C635.39,49.09 635.72,48.85 636.06,48.61 C636.39,48.36 636.72,48.12 637.06,47.88 C637.39,47.64 637.73,47.40 638.06,47.15 C638.39,46.91 638.89,46.55 639.06,46.43" fill="none" stroke="#1414b4" stroke-width="2.4" stroke-linejoin="round"/>
<path d="M398.30,152.60 C398.67,151.59 399.77,148.00 400.50,146.56 C401.24,145.12 402.17,144.45 402.71,143.96 C403.24,143.47 403.37,143.73 403.71,143.62 C404.04,143.51 404.38,143.40 404.71,143.28 C405.04,143.17 405.38,143.06 405.71,142.94 C406.04,142.83 406.38,142.71 406.71,142.60 C407.05,142.48 407.38,142.37 407.71,142.25 C408.05,142.14 408.38,142.02 408.72,141.90 C409.05,141.79 409.38,141.67 409.72,141.55 C410.05,141.43 410.38,141.32 410.72,141.20 C411.05,141.08 411.39,140.96 411.72,140.84 C412.05,140.72 412.39,140.60 412.72,140.48 C413.06,140.36 413.39,140.24 413.72,140.12 C414.06,140.00 414.39,139.88 414.72,139.76 C415.06,139.64 415.39,139.51 415.73,139.39 C416.06,139.27 416.39,139.15 416.73,139.02 C417.06,138.90 417.40,138.78 417.73,138.65 C418.06,138.53 418.40,138.41 418.73,138.28 C419.06,138.16 419.40,138.03 419.73,137.91 C420.07,137.78 420.40,137.66 420.73,137.53 C421.07,137.41 421.40,137.28 421.74,137.15 C422.07,137.03 422.40,136.90 422.74,136.77 C423.07,136.65 423.40,136.52 423.74,136.39 C424.07,136.27 424.41,136.14 424.74,136.01 C425.07,135.88 425.41,135.75 425.74,135.63 C426.07,135.50 426.41,135.37 426.74,135.24 C427.08,135.11 427.41,134.98 427.74,134.85 C428.08,134.72 428.41,134.59 428.75,134.46 C429.08,134.33 429.41,134.20 429.75,134.07 C430.08,133.94 430.41,133.81 430.75,133.68 C431.08,133.55 431.42,133.42 431.75,133.28 C432.08,133.15 432.42,133.02 432.75,132.89 C433.09,132.76 433.42,132.63 433.75,132.49 C434.09,132.36 434.42,132.23 434.75,132.10 C435.09,131.96 435.42,131.83 435.76,131.70 C436.09,131.57 436.42,131.43 436.76,131.30 C437.09,131.17 437.43,131.03 437.76,130.90 C438.09,130.77 438.43,130.63 438.76,130.50 C439.09,130.36 439.43,130.23 439.76,130.10 C440.10,129.96 440.43,129.83 440.76,129.69 C441.10,129.56 441.43,129.42 441.77,129.29 C442.10,129.16 442.43,129.02 442.77,128.89 C443.10,128.75 443.43,128.62 443.77,128.48 C444.10,128.35 444.44,128.21 444.77,128.08 C445.10,127.94 445.44,127.80 445.77,127.67 C446.10,127.53 446.44,127.40 446.77,127.26 C447.11,127.13 447.44,126.99 447.77,126.85 C448.11,126.72 448.44,126.58 448.78,126.44 C449.11,126.30 449.44,126.17 449.78,126.03 C450.11,125.89 450.44,125.75 450.78,125.61 C451.11,125.47 451.45,125.33 451.78,125.19 C452.11,125.05 452.45,124.90 452.78,124.76 C453.12,124.62 453.45,124.47 453.78,124.32 C454.12,124.18 454.45,124.03 454.78,123.88 C455.12,123.74 455.45,123.59 455.79,123.44 C456.12,123.29 456.45,123.13 456.79,122.98 C457.12,122.83 457.46,122.67 457.79,122.52 C458.12,122.36 458.46,122.20 458.79,122.04 C459.12,121.88 459.46,121.72 459.79,121.56 C460.13,121.39 460.46,121.23 460.79,121.06 C461.13,120.89 461.46,120.73 461.80,120.55 C462.13,120.38 462.46,120.21 462.80,120.04 C463.13,119.86 463.46,119.68 463.80,119.50 C464.13,119.32 464.47,119.14 464.80,118.96 C465.13,118.77 465.47,118.59 465.80,118.40 C466.13,118.21 466.47,118.02 466.80,117.82 C467.14,117.63 467.47,117.43 467.80,117.23 C468.14,117.03 468.47,116.83 468.81,116.63 C469.14,116.42 469.47,116.21 469.81,116.00 C470.14,115.79 470.47,115.58 470.81,115.36 C471.14,115.14 471.48,114.92 471.81,114.70 C472.14,114.48 472.48,114.25 472.81,114.02 C473.15,113.79 473.48,113.56 473.81,113.32 C474.15,113.08 474.48,112.84 474.81,112.60 C475.15,112.36 475.48,112.11 475.82,111.86 C476.15,111.61 476.48,111.35 476.82,111.10 C477.15,110.84 477.49,110.58 477.82,110.32 C478.15,110.06 478.49,109.79 478.82,109.53 C479.15,109.26 479.49,108.99 479.82,108.72 C480.16,108.45 480.49,108.18 480.82,107.91 C481.16,107.64 481.49,107.36 481.83,107.09 C482.16,106.81 482.49,106.54 482.83,106.26 C483.16,105.99 483.49,105.71 483.83,105.43 C484.16,105.16 484.50,104.88 484.83,104.61 C485.16,104.33 485.50,104.06 485.83,103.78 C486.16,103.51 486.50,103.24 486.83,102.96 C487.17,102.69 487.50,102.42 487.83,102.15 C488.17,101.88 488.50,101.62 488.84,101.35 C489.17,101.09 489.50,100.82 489.84,100.56 C490.17,100.30 490.50,100.04 490.84,99.79 C491.17,99.53 491.51,99.28 491.84,99.03 C492.17,98.78 492.51,98.54 492.84,98.30 C493.18,98.06 493.51,97.82 493.84,97.58 C494.18,97.35 494.51,97.12 494.84,96.90 C495.18,96.67 495.51,96.45 495.85,96.24 C496.18,96.02 496.51,95.81 496.85,95.60 C497.18,95.40 497.52,95.20 497.85,95.01 C498.18,94.81 498.52,94.63 498.85,94.44 C499.18,94.26 499.52,94.09 499.85,93.91 C500.19,93.74 500.52,93.58 500.85,93.42 C501.19,93.26 501.52,93.10 501.86,92.95 C502.19,92.80 502.52,92.65 502.86,92.50 C503.19,92.36 503.52,92.22 503.86,92.08 C504.19,91.95 504.53,91.81 504.86,91.68 C505.19,91.55 505.53,91.42 505.86,91.30 C506.19,91.17 506.53,91.05 506.86,90.92 C507.20,90.80 507.53,90.68 507.86,90.56 C508.20,90.45 508.53,90.33 508.87,90.21 C509.20,90.09 509.53,89.98 509.87,89.86 C510.20,89.75 510.53,89.63 510.87,89.52 C511.20,89.40 511.54,89.29 511.87,89.17 C512.20,89.05 512.54,88.94 512.87,88.82 C513.21,88.70 513.54,88.58 513.87,88.46 C514.21,88.34 514.54,88.22 514.87,88.10 C515.21,87.97 515.54,87.85 515.88,87.72 C516.21,87.59 516.54,87.46 516.88,87.34 C517.21,87.21 517.55,87.07 517.88,86.94 C518.21,86.81 518.55,86.67 518.88,86.54 C519.21,86.41 519.55,86.27 519.88,86.13 C520.22,85.99 520.55,85.86 520.88,85.72 C521.22,85.58 521.55,85.44 521.89,85.30 C522.22,85.16 522.55,85.01 522.89,84.87 C523.22,84.73 523.55,84.59 523.89,84.44 C524.22,84.30 524.56,84.15 524.89,84.01 C525.22,83.87 525.56,83.72 525.89,83.57 C526.22,83.43 526.56,83.28 526.89,83.14 C527.23,82.99 527.56,82.84 527.89,82.70 C528.23,82.55 528.56,82.40 528.90,82.26 C529.23,82.11 529.56,81.96 529.90,81.82 C530.23,81.67 530.56,81.52 530.90,81.38 C531.23,81.23 531.57,81.09 531.90,80.94 C532.23,80.79 532.57,80.65 532.90,80.50 C533.24,80.36 533.57,80.21 533.90,80.07 C534.24,79.93 534.57,79.78 534.90,79.64 C535.24,79.50 535.57,79.36 535.91,79.22 C536.24,79.07 536.57,78.93 536.91,78.79 C537.24,78.65 537.58,78.52 537.91,78.38 C538.24,78.24 538.58,78.10 538.91,77.97 C539.24,77.83 539.58,77.70 539.91,77.57 C540.25,77.43 540.58,77.30 540.91,77.17 C541.25,77.04 541.58,76.91 541.92,76.78 C542.25,76.66 542.58,76.53 542.92,76.41 C543.25,76.28 543.58,76.16 543.92,76.04 C544.25,75.92 544.59,75.80 544.92,75.68 C545.25,75.56 545.59,75.45 545.92,75.33 C546.25,75.22 546.59,75.11 546.92,74.99 C547.26,74.88 547.59,74.77 547.92,74.66 C548.26,74.55 548.59,74.45 548.93,74.34 C549.26,74.23 549.59,74.13 549.93,74.03 C550.26,73.92 550.59,73.82 550.93,73.72 C551.26,73.62 551.60,73.52 551.93,73.42 C552.26,73.32 552.60,73.22 552.93,73.12 C553.27,73.02 553.60,72.92 553.93,72.83 C554.27,72.73 554.60,72.64 554.93,72.54 C555.27,72.44 555.60,72.35 555.94,72.26 C556.27,72.16 556.60,72.07 556.94,71.98 C557.27,71.88 557.61,71.79 557.94,71.70 C558.27,71.60 558.61,71.51 558.94,71.42 C559.27,71.33 559.61,71.23 559.94,71.14 C560.28,71.05 560.61,70.96 560.94,70.87 C561.28,70.77 561.61,70.68 561.95,70.59 C562.28,70.50 562.61,70.41 562.95,70.31 C563.28,70.22 563.61,70.13 563.95,70.04 C564.28,69.94 564.62,69.85 564.95,69.75 C565.28,69.66 565.62,69.57 565.95,69.47 C566.28,69.38 566.62,69.28 566.95,69.18 C567.29,69.09 567.62,68.99 567.95,68.89 C568.29,68.79 568.62,68.70 568.96,68.60 C569.29,68.50 569.62,68.40 569.96,68.30 C570.29,68.19 570.62,68.09 570.96,67.99 C571.29,67.88 571.63,67.78 571.96,67.67 C572.29,67.57 572.63,67.46 572.96,67.35 C573.30,67.24 573.63,67.13 573.96,67.02 C574.30,66.91 574.63,66.80 574.96,66.69 C575.30,66.57 575.63,66.46 575.97,66.34 C576.30,66.22 576.63,66.10 576.97,65.98 C577.30,65.86 577.64,65.74 577.97,65.61 C578.30,65.49 578.64,65.36 578.97,65.24 C579.30,65.11 579.64,64.98 579.97,64.85 C580.31,64.71 580.64,64.58 580.97,64.44 C581.31,64.31 581.64,64.17 581.98,64.03 C582.31,63.89 582.64,63.74 582.98,63.60 C583.31,63.45 583.64,63.31 583.98,63.16 C584.31,63.01 584.65,62.85 584.98,62.70 C585.31,62.54 585.65,62.38 585.98,62.22 C586.31,62.06 586.65,61.90 586.98,61.73 C587.32,61.57 587.65,61.40 587.98,61.23 C588.32,61.05 588.65,60.88 588.99,60.70 C589.32,60.52 589.65,60.34 589.99,60.16 C590.32,59.97 590.65,59.79 590.99,59.60 C591.32,59.41 591.66,59.21 591.99,59.02 C592.32,58.82 592.66,58.62 592.99,58.42 C593.33,58.22 593.66,58.01 593.99,57.81 C594.33,57.60 594.66,57.39 594.99,57.18 C595.33,56.97 595.66,56.75 596.00,56.53 C596.33,56.32 596.66,56.10 597.00,55.88 C597.33,55.65 597.67,55.43 598.00,55.20 C598.33,54.98 598.67,54.75 599.00,54.52 C599.33,54.29 599.67,54.05 600.00,53.82 C600.34,53.59 600.67,53.35 601.00,53.11 C601.34,52.87 601.67,52.63 602.01,52.39 C602.34,52.15 602.67,51.91 603.01,51.66 C603.34,51.42 603.67,51.17 604.01,50.92 C604.34,50.68 604.68,50.43 605.01,50.18 C605.34,49.93 605.68,49.67 606.01,49.42 C606.34,49.17 606.68,48.91 607.01,48.66 C607.35,48.40 607.68,48.15 608.01,47.89 C608.35,47.63 608.68,47.37 609.02,47.11 C609.35,46.86 609.68,46.60 610.02,46.34 C610.35,46.07 610.68,45.81 611.02,45.55 C611.35,45.29 611.69,45.03 612.02,44.76 C612.35,44.50 612.69,44.24 613.02,43.98 C613.36,43.71 613.69,43.45 614.02,43.18 C614.36,42.92 614.69,42.65 615.02,42.39 C615.36,42.13 615.69,41.86 616.03,41.60 C616.36,41.33 616.69,41.07 617.03,40.80 C617.36,40.54 617.70,40.27 618.03,40.01 C618.36,39.75 618.70,39.48 619.03,39.22 C619.36,38.96 619.70,38.69 620.03,38.43 C620.37,38.17 620.70,37.91 621.03,37.65 C621.37,37.39 621.70,37.12 622.04,36.87 C622.37,36.61 622.70,36.35 623.04,36.09 C623.37,35.83 623.70,35.57 624.04,35.32 C624.37,35.06 624.71,34.81 625.04,34.55 C625.37,34.30 625.71,34.04 626.04,33.79 C626.37,33.54 626.71,33.29 627.04,33.04 C627.38,32.79 627.71,32.54 628.04,32.30 C628.38,32.05 628.71,31.81 629.05,31.56 C629.38,31.32 629.71,31.08 630.05,30.84 C630.38,30.60 630.71,30.36 631.05,30.13 C631.38,29.89 631.72,29.65 632.05,29.42 C632.38,29.19 632.72,28.96 633.05,28.73 C633.39,28.50 633.72,28.28 634.05,28.05 C634.39,27.83 634.72,27.61 635.05,27.39 C635.39,27.17 635.72,26.95 636.06,26.74 C636.39,26.52 636.72,26.31 637.06,26.10 C637.39,25.89 637.73,25.68 638.06,25.48 C638.39,25.27 638.89,24.98 639.06,24.87" fill="none" stroke="#e018e0" stroke-width="2.4" stroke-linejoin="round"/>
<line x1="398.30" y1="152.60" x2="648.80" y2="152.60" stroke="#333" stroke-width="1.1" />
<line x1="398.30" y1="152.60" x2="398.30" y2="1.50" stroke="#333" stroke-width="1.1" />
<line x1="395.30" y1="152.60" x2="398.30" y2="152.60" stroke="#333" stroke-width="1.0" />
<line x1="395.30" y1="125.16" x2="398.30" y2="125.16" stroke="#333" stroke-width="1.0" />
<line x1="395.30" y1="97.72" x2="398.30" y2="97.72" stroke="#333" stroke-width="1.0" />
<line x1="395.30" y1="70.28" x2="398.30" y2="70.28" stroke="#333" stroke-width="1.0" />
<line x1="395.30" y1="42.84" x2="398.30" y2="42.84" stroke="#333" stroke-width="1.0" />
<line x1="395.30" y1="15.40" x2="398.30" y2="15.40" stroke="#333" stroke-width="1.0" />
<line x1="396.70" y1="138.88" x2="398.30" y2="138.88" stroke="#333" stroke-width="1.0" />
<line x1="396.70" y1="111.44" x2="398.30" y2="111.44" stroke="#333" stroke-width="1.0" />
<line x1="396.70" y1="84.00" x2="398.30" y2="84.00" stroke="#333" stroke-width="1.0" />
<line x1="396.70" y1="56.56" x2="398.30" y2="56.56" stroke="#333" stroke-width="1.0" />
<line x1="396.70" y1="29.12" x2="398.30" y2="29.12" stroke="#333" stroke-width="1.0" />
<line x1="396.70" y1="1.68" x2="398.30" y2="1.68" stroke="#333" stroke-width="1.0" />
<line x1="398.30" y1="152.60" x2="398.30" y2="155.60" stroke="#333" stroke-width="1.0" />
<line x1="418.33" y1="152.60" x2="418.33" y2="155.60" stroke="#333" stroke-width="1.0" />
<line x1="438.36" y1="152.60" x2="438.36" y2="155.60" stroke="#333" stroke-width="1.0" />
<line x1="458.39" y1="152.60" x2="458.39" y2="155.60" stroke="#333" stroke-width="1.0" />
<line x1="478.42" y1="152.60" x2="478.42" y2="155.60" stroke="#333" stroke-width="1.0" />
<line x1="498.45" y1="152.60" x2="498.45" y2="155.60" stroke="#333" stroke-width="1.0" />
<line x1="518.48" y1="152.60" x2="518.48" y2="155.60" stroke="#333" stroke-width="1.0" />
<line x1="538.51" y1="152.60" x2="538.51" y2="155.60" stroke="#333" stroke-width="1.0" />
<line x1="558.54" y1="152.60" x2="558.54" y2="155.60" stroke="#333" stroke-width="1.0" />
<line x1="578.57" y1="152.60" x2="578.57" y2="155.60" stroke="#333" stroke-width="1.0" />
<line x1="598.60" y1="152.60" x2="598.60" y2="155.60" stroke="#333" stroke-width="1.0" />
<line x1="618.63" y1="152.60" x2="618.63" y2="155.60" stroke="#333" stroke-width="1.0" />
<line x1="638.66" y1="152.60" x2="638.66" y2="155.60" stroke="#333" stroke-width="1.0" />
<line x1="408.31" y1="152.60" x2="408.31" y2="154.20" stroke="#333" stroke-width="1.0" />
<line x1="428.35" y1="152.60" x2="428.35" y2="154.20" stroke="#333" stroke-width="1.0" />
<line x1="448.38" y1="152.60" x2="448.38" y2="154.20" stroke="#333" stroke-width="1.0" />
<line x1="468.41" y1="152.60" x2="468.41" y2="154.20" stroke="#333" stroke-width="1.0" />
<line x1="488.44" y1="152.60" x2="488.44" y2="154.20" stroke="#333" stroke-width="1.0" />
<line x1="508.47" y1="152.60" x2="508.47" y2="154.20" stroke="#333" stroke-width="1.0" />
<line x1="528.50" y1="152.60" x2="528.50" y2="154.20" stroke="#333" stroke-width="1.0" />
<line x1="548.53" y1="152.60" x2="548.53" y2="154.20" stroke="#333" stroke-width="1.0" />
<line x1="568.56" y1="152.60" x2="568.56" y2="154.20" stroke="#333" stroke-width="1.0" />
<line x1="588.59" y1="152.60" x2="588.59" y2="154.20" stroke="#333" stroke-width="1.0" />
<line x1="608.62" y1="152.60" x2="608.62" y2="154.20" stroke="#333" stroke-width="1.0" />
<line x1="628.64" y1="152.60" x2="628.64" y2="154.20" stroke="#333" stroke-width="1.0" />
<line x1="648.67" y1="152.60" x2="648.67" y2="154.20" stroke="#333" stroke-width="1.0" />
<text x="393.60" y="155.85" font-size="9.6" text-anchor="end" fill="#222" stroke="#222" stroke-width="0" font-weight="normal" >0</text>
<text x="393.60" y="128.41" font-size="9.6" text-anchor="end" fill="#222" stroke="#222" stroke-width="0" font-weight="normal" >2</text>
<text x="393.60" y="100.97" font-size="9.6" text-anchor="end" fill="#222" stroke="#222" stroke-width="0" font-weight="normal" >4</text>
<text x="393.60" y="73.53" font-size="9.6" text-anchor="end" fill="#222" stroke="#222" stroke-width="0" font-weight="normal" >6</text>
<text x="393.60" y="46.09" font-size="9.6" text-anchor="end" fill="#222" stroke="#222" stroke-width="0" font-weight="normal" >8</text>
<text x="393.60" y="18.65" font-size="9.6" text-anchor="end" fill="#222" stroke="#222" stroke-width="0" font-weight="normal" >10</text>
<text x="398.30" y="165.00" font-size="9.6" text-anchor="middle" fill="#222" stroke="#222" stroke-width="0" font-weight="normal" >0</text>
<text x="418.33" y="165.00" font-size="9.6" text-anchor="middle" fill="#222" stroke="#222" stroke-width="0" font-weight="normal" >10</text>
<text x="438.36" y="165.00" font-size="9.6" text-anchor="middle" fill="#222" stroke="#222" stroke-width="0" font-weight="normal" >20</text>
<text x="458.39" y="165.00" font-size="9.6" text-anchor="middle" fill="#222" stroke="#222" stroke-width="0" font-weight="normal" >30</text>
<text x="478.42" y="165.00" font-size="9.6" text-anchor="middle" fill="#222" stroke="#222" stroke-width="0" font-weight="normal" >40</text>
<text x="498.45" y="165.00" font-size="9.6" text-anchor="middle" fill="#222" stroke="#222" stroke-width="0" font-weight="normal" >50</text>
<text x="518.48" y="165.00" font-size="9.6" text-anchor="middle" fill="#222" stroke="#222" stroke-width="0" font-weight="normal" >60</text>
<text x="538.51" y="165.00" font-size="9.6" text-anchor="middle" fill="#222" stroke="#222" stroke-width="0" font-weight="normal" >70</text>
<text x="558.54" y="165.00" font-size="9.6" text-anchor="middle" fill="#222" stroke="#222" stroke-width="0" font-weight="normal" >80</text>
<text x="578.57" y="165.00" font-size="9.6" text-anchor="middle" fill="#222" stroke="#222" stroke-width="0" font-weight="normal" >90</text>
<text x="598.60" y="165.00" font-size="9.6" text-anchor="middle" fill="#222" stroke="#222" stroke-width="0" font-weight="normal" >100</text>
<text x="618.63" y="165.00" font-size="9.6" text-anchor="middle" fill="#222" stroke="#222" stroke-width="0" font-weight="normal" >110</text>
<text x="638.66" y="165.00" font-size="9.6" text-anchor="middle" fill="#222" stroke="#222" stroke-width="0" font-weight="normal" >120</text>
<text x="380.40" y="81.60" font-size="12.4" text-anchor="middle" fill="#222" stroke="#222" stroke-width="0" font-weight="normal" textLength="52.60" lengthAdjust="spacingAndGlyphs" transform="rotate(-90 380.40 81.60)" >Cell Index</text>
<text x="518.75" y="179.00" font-size="11.7" text-anchor="middle" fill="#222" stroke="#222" stroke-width="0" font-weight="normal" textLength="52.90" lengthAdjust="spacingAndGlyphs" >Time (hour)</text>
<line x1="403.80" y1="8.50" x2="427.10" y2="8.50" stroke="#1212b0" stroke-width="2.5" />
<line x1="403.80" y1="21.20" x2="427.10" y2="21.20" stroke="#e014e0" stroke-width="2.5" />
<text x="429.10" y="12.00" font-size="10" text-anchor="start" fill="#222" stroke="#222" stroke-width="0" font-weight="normal" textLength="56.20" lengthAdjust="spacingAndGlyphs" >RNF4 siRNA</text>
<text x="429.10" y="24.80" font-size="10" text-anchor="start" fill="#222" stroke="#222" stroke-width="0" font-weight="normal" textLength="45.90" lengthAdjust="spacingAndGlyphs" >siRNA NC</text>
<line x1="63.80" y1="330.40" x2="182.80" y2="330.40" stroke="#333" stroke-width="1.1" />
<line x1="63.80" y1="330.40" x2="63.80" y2="201.20" stroke="#333" stroke-width="1.1" />
<line x1="60.80" y1="330.40" x2="63.80" y2="330.40" stroke="#333" stroke-width="1.0" />
<line x1="60.80" y1="307.00" x2="63.80" y2="307.00" stroke="#333" stroke-width="1.0" />
<line x1="60.80" y1="283.60" x2="63.80" y2="283.60" stroke="#333" stroke-width="1.0" />
<line x1="60.80" y1="260.20" x2="63.80" y2="260.20" stroke="#333" stroke-width="1.0" />
<line x1="60.80" y1="236.80" x2="63.80" y2="236.80" stroke="#333" stroke-width="1.0" />
<line x1="60.80" y1="213.40" x2="63.80" y2="213.40" stroke="#333" stroke-width="1.0" />
<line x1="62.20" y1="318.70" x2="63.80" y2="318.70" stroke="#333" stroke-width="1.0" />
<line x1="62.20" y1="295.30" x2="63.80" y2="295.30" stroke="#333" stroke-width="1.0" />
<line x1="62.20" y1="271.90" x2="63.80" y2="271.90" stroke="#333" stroke-width="1.0" />
<line x1="62.20" y1="248.50" x2="63.80" y2="248.50" stroke="#333" stroke-width="1.0" />
<line x1="62.20" y1="225.10" x2="63.80" y2="225.10" stroke="#333" stroke-width="1.0" />
<line x1="62.20" y1="201.70" x2="63.80" y2="201.70" stroke="#333" stroke-width="1.0" />
<line x1="103.30" y1="330.40" x2="103.30" y2="332.90" stroke="#333" stroke-width="1.0" />
<line x1="143.10" y1="330.40" x2="143.10" y2="332.90" stroke="#333" stroke-width="1.0" />
<line x1="83.60" y1="330.40" x2="83.60" y2="332.00" stroke="#333" stroke-width="1.0" />
<line x1="123.20" y1="330.40" x2="123.20" y2="332.00" stroke="#333" stroke-width="1.0" />
<line x1="162.90" y1="330.40" x2="162.90" y2="332.00" stroke="#333" stroke-width="1.0" />
<text x="58.90" y="333.65" font-size="9.6" text-anchor="end" fill="#222" stroke="#222" stroke-width="0" font-weight="normal" >0.0</text>
<text x="58.90" y="310.25" font-size="9.6" text-anchor="end" fill="#222" stroke="#222" stroke-width="0" font-weight="normal" >0.2</text>
<text x="58.90" y="286.85" font-size="9.6" text-anchor="end" fill="#222" stroke="#222" stroke-width="0" font-weight="normal" >0.4</text>
<text x="58.90" y="263.45" font-size="9.6" text-anchor="end" fill="#222" stroke="#222" stroke-width="0" font-weight="normal" >0.6</text>
<text x="58.90" y="240.05" font-size="9.6" text-anchor="end" fill="#222" stroke="#222" stroke-width="0" font-weight="normal" >0.8</text>
<text x="58.90" y="216.65" font-size="9.6" text-anchor="end" fill="#222" stroke="#222" stroke-width="0" font-weight="normal" >1.0</text>
<line x1="103.50" y1="239.72" x2="103.50" y2="230.95" stroke="#555" stroke-width="0.8" />
<line x1="102.30" y1="230.95" x2="104.70" y2="230.95" stroke="#555" stroke-width="0.8" />
<rect x="96.00" y="240.22" width="15.10" height="90.18" fill="#fff" stroke="#444444" stroke-width="1.0"/>
<line x1="143.10" y1="209.07" x2="143.10" y2="206.38" stroke="#555" stroke-width="0.8" />
<line x1="141.90" y1="206.38" x2="144.30" y2="206.38" stroke="#555" stroke-width="0.8" />
<rect x="135.10" y="209.07" width="16.00" height="121.33" fill="#000" stroke="none" stroke-width="1.0"/>
<polygon points="140.50,197.85 141.12,199.42 142.79,199.18 141.75,200.50 142.79,201.82 141.12,201.58 140.50,203.15 139.88,201.58 138.21,201.82 139.25,200.50 138.21,199.18 139.88,199.42" fill="#4a4a4a"/>
<polygon points="146.10,197.85 146.73,199.42 148.39,199.18 147.35,200.50 148.39,201.82 146.73,201.58 146.10,203.15 145.48,201.58 143.81,201.82 144.85,200.50 143.81,199.18 145.48,199.42" fill="#4a4a4a"/>
<text x="40.40" y="264.40" font-size="10.9" text-anchor="middle" fill="#222" stroke="#222" stroke-width="0" font-weight="normal" textLength="162.40" lengthAdjust="spacingAndGlyphs" transform="rotate(-90 40.40 264.40)" >Relative expression of <tspan font-style="italic">PCNA</tspan> mRNA</text>
<text x="103.25" y="344.30" font-size="9.7" text-anchor="middle" fill="#222" stroke="#222" stroke-width="0" font-weight="normal" textLength="41.30" lengthAdjust="spacingAndGlyphs" >pcDNA3.1</text>
<text x="140.65" y="344.30" font-size="9.7" text-anchor="middle" fill="#222" stroke="#222" stroke-width="0" font-weight="normal" textLength="21.90" lengthAdjust="spacingAndGlyphs" >RNF4</text>
<text x="142.85" y="356.40" font-size="9.7" text-anchor="middle" fill="#222" stroke="#222" stroke-width="0" font-weight="normal" textLength="40.90" lengthAdjust="spacingAndGlyphs" >pcDNA3.1</text>
<line x1="63.30" y1="505.40" x2="182.60" y2="505.40" stroke="#333" stroke-width="1.1" />
<line x1="63.30" y1="505.40" x2="63.30" y2="375.70" stroke="#333" stroke-width="1.1" />
<line x1="60.30" y1="505.40" x2="63.30" y2="505.40" stroke="#333" stroke-width="1.0" />
<line x1="60.30" y1="481.78" x2="63.30" y2="481.78" stroke="#333" stroke-width="1.0" />
<line x1="60.30" y1="458.16" x2="63.30" y2="458.16" stroke="#333" stroke-width="1.0" />
<line x1="60.30" y1="434.54" x2="63.30" y2="434.54" stroke="#333" stroke-width="1.0" />
<line x1="60.30" y1="410.92" x2="63.30" y2="410.92" stroke="#333" stroke-width="1.0" />
<line x1="60.30" y1="387.30" x2="63.30" y2="387.30" stroke="#333" stroke-width="1.0" />
<line x1="61.70" y1="493.59" x2="63.30" y2="493.59" stroke="#333" stroke-width="1.0" />
<line x1="61.70" y1="469.97" x2="63.30" y2="469.97" stroke="#333" stroke-width="1.0" />
<line x1="61.70" y1="446.35" x2="63.30" y2="446.35" stroke="#333" stroke-width="1.0" />
<line x1="61.70" y1="422.73" x2="63.30" y2="422.73" stroke="#333" stroke-width="1.0" />
<line x1="61.70" y1="399.11" x2="63.30" y2="399.11" stroke="#333" stroke-width="1.0" />
<line x1="61.70" y1="375.49" x2="63.30" y2="375.49" stroke="#333" stroke-width="1.0" />
<line x1="103.50" y1="505.40" x2="103.50" y2="507.90" stroke="#333" stroke-width="1.0" />
<line x1="143.40" y1="505.40" x2="143.40" y2="507.90" stroke="#333" stroke-width="1.0" />
<line x1="83.90" y1="505.40" x2="83.90" y2="507.00" stroke="#333" stroke-width="1.0" />
<line x1="123.40" y1="505.40" x2="123.40" y2="507.00" stroke="#333" stroke-width="1.0" />
<line x1="163.20" y1="505.40" x2="163.20" y2="507.00" stroke="#333" stroke-width="1.0" />
<text x="58.40" y="508.65" font-size="9.6" text-anchor="end" fill="#222" stroke="#222" stroke-width="0" font-weight="normal" >0.0</text>
<text x="58.40" y="485.03" font-size="9.6" text-anchor="end" fill="#222" stroke="#222" stroke-width="0" font-weight="normal" >0.2</text>
<text x="58.40" y="461.41" font-size="9.6" text-anchor="end" fill="#222" stroke="#222" stroke-width="0" font-weight="normal" >0.4</text>
<text x="58.40" y="437.79" font-size="9.6" text-anchor="end" fill="#222" stroke="#222" stroke-width="0" font-weight="normal" >0.6</text>
<text x="58.40" y="414.17" font-size="9.6" text-anchor="end" fill="#222" stroke="#222" stroke-width="0" font-weight="normal" >0.8</text>
<text x="58.40" y="390.55" font-size="9.6" text-anchor="end" fill="#222" stroke="#222" stroke-width="0" font-weight="normal" >1.0</text>
<rect x="95.80" y="387.80" width="15.40" height="117.60" fill="#fff" stroke="#444444" stroke-width="1.0"/>
<line x1="101.80" y1="387.00" x2="105.20" y2="387.00" stroke="#555" stroke-width="0.8" />
<line x1="143.10" y1="463.71" x2="143.10" y2="449.89" stroke="#888" stroke-width="0.8" />
<line x1="141.90" y1="449.89" x2="144.30" y2="449.89" stroke="#888" stroke-width="0.8" />
<rect x="135.20" y="463.71" width="15.80" height="41.69" fill="#000" stroke="none" stroke-width="1.0"/>
<polygon points="140.00,442.45 140.62,444.02 142.29,443.78 141.25,445.10 142.29,446.43 140.62,446.18 140.00,447.75 139.38,446.18 137.71,446.43 138.75,445.10 137.71,443.78 139.38,444.02" fill="#4a4a4a"/>
<polygon points="145.60,442.45 146.23,444.02 147.89,443.78 146.85,445.10 147.89,446.43 146.23,446.18 145.60,447.75 144.98,446.18 143.31,446.43 144.35,445.10 143.31,443.78 144.98,444.02" fill="#4a4a4a"/>
<text x="40.40" y="439.30" font-size="10.9" text-anchor="middle" fill="#222" stroke="#222" stroke-width="0" font-weight="normal" textLength="161.80" lengthAdjust="spacingAndGlyphs" transform="rotate(-90 40.40 439.30)" >Relative expression of <tspan font-style="italic">PCNA</tspan> mRNA</text>
<text x="103.80" y="519.30" font-size="9.3" text-anchor="middle" fill="#222" stroke="#222" stroke-width="0" font-weight="normal" textLength="26.00" lengthAdjust="spacingAndGlyphs" >siRNA</text>
<text x="104.40" y="531.00" font-size="9.6" text-anchor="middle" fill="#222" stroke="#222" stroke-width="0" font-weight="normal" >NC</text>
<text x="141.10" y="519.30" font-size="9.3" text-anchor="middle" fill="#222" stroke="#222" stroke-width="0" font-weight="normal" textLength="22.40" lengthAdjust="spacingAndGlyphs" >RNF4</text>
<text x="142.50" y="531.00" font-size="9.3" text-anchor="middle" fill="#222" stroke="#222" stroke-width="0" font-weight="normal" textLength="26.00" lengthAdjust="spacingAndGlyphs" >siRNA</text>
<line x1="259.40" y1="330.50" x2="434.70" y2="330.50" stroke="#333" stroke-width="1.1" />
<line x1="259.40" y1="330.50" x2="259.40" y2="201.00" stroke="#333" stroke-width="1.1" />
<line x1="256.40" y1="330.50" x2="259.40" y2="330.50" stroke="#333" stroke-width="1.0" />
<line x1="256.40" y1="312.00" x2="259.40" y2="312.00" stroke="#333" stroke-width="1.0" />
<line x1="256.40" y1="293.50" x2="259.40" y2="293.50" stroke="#333" stroke-width="1.0" />
<line x1="256.40" y1="275.00" x2="259.40" y2="275.00" stroke="#333" stroke-width="1.0" />
<line x1="256.40" y1="256.50" x2="259.40" y2="256.50" stroke="#333" stroke-width="1.0" />
<line x1="256.40" y1="238.00" x2="259.40" y2="238.00" stroke="#333" stroke-width="1.0" />
<line x1="256.40" y1="219.50" x2="259.40" y2="219.50" stroke="#333" stroke-width="1.0" />
<line x1="256.40" y1="201.00" x2="259.40" y2="201.00" stroke="#333" stroke-width="1.0" />
<line x1="257.80" y1="321.25" x2="259.40" y2="321.25" stroke="#333" stroke-width="1.0" />
<line x1="257.80" y1="302.75" x2="259.40" y2="302.75" stroke="#333" stroke-width="1.0" />
<line x1="257.80" y1="284.25" x2="259.40" y2="284.25" stroke="#333" stroke-width="1.0" />
<line x1="257.80" y1="265.75" x2="259.40" y2="265.75" stroke="#333" stroke-width="1.0" />
<line x1="257.80" y1="247.25" x2="259.40" y2="247.25" stroke="#333" stroke-width="1.0" />
<line x1="257.80" y1="228.75" x2="259.40" y2="228.75" stroke="#333" stroke-width="1.0" />
<line x1="257.80" y1="210.25" x2="259.40" y2="210.25" stroke="#333" stroke-width="1.0" />
<line x1="288.40" y1="330.50" x2="288.40" y2="333.00" stroke="#333" stroke-width="1.0" />
<line x1="346.85" y1="330.50" x2="346.85" y2="333.00" stroke="#333" stroke-width="1.0" />
<line x1="405.30" y1="330.50" x2="405.30" y2="333.00" stroke="#333" stroke-width="1.0" />
<line x1="317.60" y1="330.50" x2="317.60" y2="332.10" stroke="#333" stroke-width="1.0" />
<line x1="376.05" y1="330.50" x2="376.05" y2="332.10" stroke="#333" stroke-width="1.0" />
<text x="255.30" y="333.75" font-size="9.6" text-anchor="end" fill="#222" stroke="#222" stroke-width="0" font-weight="normal" >0</text>
<text x="255.30" y="315.25" font-size="9.6" text-anchor="end" fill="#222" stroke="#222" stroke-width="0" font-weight="normal" >10</text>
<text x="255.30" y="296.75" font-size="9.6" text-anchor="end" fill="#222" stroke="#222" stroke-width="0" font-weight="normal" >20</text>
<text x="255.30" y="278.25" font-size="9.6" text-anchor="end" fill="#222" stroke="#222" stroke-width="0" font-weight="normal" >30</text>
<text x="255.30" y="259.75" font-size="9.6" text-anchor="end" fill="#222" stroke="#222" stroke-width="0" font-weight="normal" >40</text>
<text x="255.30" y="241.25" font-size="9.6" text-anchor="end" fill="#222" stroke="#222" stroke-width="0" font-weight="normal" >50</text>
<text x="255.30" y="222.75" font-size="9.6" text-anchor="end" fill="#222" stroke="#222" stroke-width="0" font-weight="normal" >60</text>
<text x="255.30" y="204.25" font-size="9.6" text-anchor="end" fill="#222" stroke="#222" stroke-width="0" font-weight="normal" >70</text>
<line x1="276.65" y1="208.95" x2="276.65" y2="208.22" stroke="#888" stroke-width="0.8" />
<line x1="275.45" y1="208.22" x2="277.85" y2="208.22" stroke="#888" stroke-width="0.8" />
<rect x="265.40" y="209.45" width="22.50" height="121.05" fill="#fff" stroke="#444444" stroke-width="1.0"/>
<line x1="300.15" y1="220.06" x2="300.15" y2="217.28" stroke="#888" stroke-width="0.8" />
<line x1="298.95" y1="217.28" x2="301.35" y2="217.28" stroke="#888" stroke-width="0.8" />
<rect x="288.40" y="220.06" width="23.50" height="110.44" fill="#000" stroke="none" stroke-width="1.0"/>
<line x1="335.10" y1="277.03" x2="335.10" y2="275.37" stroke="#888" stroke-width="0.8" />
<line x1="333.90" y1="275.37" x2="336.30" y2="275.37" stroke="#888" stroke-width="0.8" />
<rect x="323.85" y="277.53" width="22.50" height="52.97" fill="#fff" stroke="#444444" stroke-width="1.0"/>
<line x1="358.60" y1="262.05" x2="358.60" y2="260.20" stroke="#888" stroke-width="0.8" />
<line x1="357.40" y1="260.20" x2="359.80" y2="260.20" stroke="#888" stroke-width="0.8" />
<rect x="346.85" y="262.05" width="23.50" height="68.45" fill="#000" stroke="none" stroke-width="1.0"/>
<line x1="393.55" y1="320.14" x2="393.55" y2="319.40" stroke="#888" stroke-width="0.8" />
<line x1="392.35" y1="319.40" x2="394.75" y2="319.40" stroke="#888" stroke-width="0.8" />
<rect x="382.30" y="320.64" width="22.50" height="9.86" fill="#fff" stroke="#444444" stroke-width="1.0"/>
<line x1="417.05" y1="324.02" x2="417.05" y2="321.99" stroke="#888" stroke-width="0.8" />
<line x1="415.85" y1="321.99" x2="418.25" y2="321.99" stroke="#888" stroke-width="0.8" />
<rect x="405.30" y="324.02" width="23.50" height="6.48" fill="#000" stroke="none" stroke-width="1.0"/>
<path d="M276.90,208.22 L276.90,197.50 L300.40,197.50 L300.40,217.00" fill="none" stroke="#bcbcbc" stroke-width="0.9"/>
<polygon points="285.90,191.05 286.52,192.62 288.19,192.38 287.15,193.70 288.19,195.02 286.52,194.78 285.90,196.35 285.27,194.78 283.61,195.02 284.65,193.70 283.61,192.38 285.27,192.62" fill="#4a4a4a"/>
<polygon points="291.50,191.05 292.12,192.62 293.79,192.38 292.75,193.70 293.79,195.02 292.12,194.78 291.50,196.35 290.88,194.78 289.21,195.02 290.25,193.70 289.21,192.38 290.88,192.62" fill="#4a4a4a"/>
<path d="M335.10,274.37 L335.10,251.80 L358.60,251.80 L358.60,259.20" fill="none" stroke="#bcbcbc" stroke-width="0.9"/>
<polygon points="344.05,243.25 344.68,244.82 346.34,244.58 345.30,245.90 346.34,247.22 344.68,246.98 344.05,248.55 343.43,246.98 341.76,247.22 342.80,245.90 341.76,244.58 343.43,244.82" fill="#4a4a4a"/>
<polygon points="349.65,243.25 350.28,244.82 351.94,244.58 350.90,245.90 351.94,247.22 350.28,246.98 349.65,248.55 349.03,246.98 347.36,247.22 348.40,245.90 347.36,244.58 349.03,244.82" fill="#4a4a4a"/>
<text x="237.60" y="264.70" font-size="10.8" text-anchor="middle" fill="#222" stroke="#222" stroke-width="0" font-weight="normal" textLength="83.00" lengthAdjust="spacingAndGlyphs" transform="rotate(-90 237.60 264.70)" >Cell population(%)</text>
<text x="288.40" y="342.50" font-size="9.8" text-anchor="middle" fill="#222" stroke="#222" stroke-width="0" font-weight="normal" textLength="25.20" lengthAdjust="spacingAndGlyphs" >G0/G1</text>
<text x="346.85" y="342.50" font-size="9.8" text-anchor="middle" fill="#222" stroke="#222" stroke-width="0" font-weight="normal" >S</text>
<text x="405.30" y="342.50" font-size="9.8" text-anchor="middle" fill="#222" stroke="#222" stroke-width="0" font-weight="normal" >G2</text>
<rect x="351.90" y="187.90" width="19.10" height="9.60" fill="#fff" stroke="#333" stroke-width="1.0"/>
<rect x="351.40" y="197.50" width="20.10" height="10.50" fill="#000" stroke="none" stroke-width="1.0"/>
<text x="373.30" y="196.00" font-size="9.3" text-anchor="start" fill="#222" stroke="#222" stroke-width="0" font-weight="normal" textLength="38.50" lengthAdjust="spacingAndGlyphs" >pcDNA3.1</text>
<text x="373.30" y="206.60" font-size="9.3" text-anchor="start" fill="#222" stroke="#222" stroke-width="0" font-weight="normal" textLength="61.30" lengthAdjust="spacingAndGlyphs" >RNF4 pcDNA3.1</text>
<line x1="259.20" y1="505.30" x2="434.70" y2="505.30" stroke="#333" stroke-width="1.1" />
<line x1="259.20" y1="505.30" x2="259.20" y2="375.80" stroke="#333" stroke-width="1.1" />
<line x1="256.20" y1="505.30" x2="259.20" y2="505.30" stroke="#333" stroke-width="1.0" />
<line x1="256.20" y1="488.00" x2="259.20" y2="488.00" stroke="#333" stroke-width="1.0" />
<line x1="256.20" y1="470.70" x2="259.20" y2="470.70" stroke="#333" stroke-width="1.0" />
<line x1="256.20" y1="453.40" x2="259.20" y2="453.40" stroke="#333" stroke-width="1.0" />
<line x1="256.20" y1="436.10" x2="259.20" y2="436.10" stroke="#333" stroke-width="1.0" />
<line x1="256.20" y1="418.80" x2="259.20" y2="418.80" stroke="#333" stroke-width="1.0" />
<line x1="256.20" y1="401.50" x2="259.20" y2="401.50" stroke="#333" stroke-width="1.0" />
<line x1="256.20" y1="384.20" x2="259.20" y2="384.20" stroke="#333" stroke-width="1.0" />
<line x1="257.60" y1="496.65" x2="259.20" y2="496.65" stroke="#333" stroke-width="1.0" />
<line x1="257.60" y1="479.35" x2="259.20" y2="479.35" stroke="#333" stroke-width="1.0" />
<line x1="257.60" y1="462.05" x2="259.20" y2="462.05" stroke="#333" stroke-width="1.0" />
<line x1="257.60" y1="444.75" x2="259.20" y2="444.75" stroke="#333" stroke-width="1.0" />
<line x1="257.60" y1="427.45" x2="259.20" y2="427.45" stroke="#333" stroke-width="1.0" />
<line x1="257.60" y1="410.15" x2="259.20" y2="410.15" stroke="#333" stroke-width="1.0" />
<line x1="257.60" y1="392.85" x2="259.20" y2="392.85" stroke="#333" stroke-width="1.0" />
<line x1="257.60" y1="375.55" x2="259.20" y2="375.55" stroke="#333" stroke-width="1.0" />
<line x1="288.40" y1="505.30" x2="288.40" y2="507.80" stroke="#333" stroke-width="1.0" />
<line x1="346.85" y1="505.30" x2="346.85" y2="507.80" stroke="#333" stroke-width="1.0" />
<line x1="405.30" y1="505.30" x2="405.30" y2="507.80" stroke="#333" stroke-width="1.0" />
<line x1="317.60" y1="505.30" x2="317.60" y2="506.90" stroke="#333" stroke-width="1.0" />
<line x1="376.05" y1="505.30" x2="376.05" y2="506.90" stroke="#333" stroke-width="1.0" />
<text x="255.10" y="508.55" font-size="9.6" text-anchor="end" fill="#222" stroke="#222" stroke-width="0" font-weight="normal" >0</text>
<text x="255.10" y="491.25" font-size="9.6" text-anchor="end" fill="#222" stroke="#222" stroke-width="0" font-weight="normal" >10</text>
<text x="255.10" y="473.95" font-size="9.6" text-anchor="end" fill="#222" stroke="#222" stroke-width="0" font-weight="normal" >20</text>
<text x="255.10" y="456.65" font-size="9.6" text-anchor="end" fill="#222" stroke="#222" stroke-width="0" font-weight="normal" >30</text>
<text x="255.10" y="439.35" font-size="9.6" text-anchor="end" fill="#222" stroke="#222" stroke-width="0" font-weight="normal" >40</text>
<text x="255.10" y="422.05" font-size="9.6" text-anchor="end" fill="#222" stroke="#222" stroke-width="0" font-weight="normal" >50</text>
<text x="255.10" y="404.75" font-size="9.6" text-anchor="end" fill="#222" stroke="#222" stroke-width="0" font-weight="normal" >60</text>
<text x="255.10" y="387.45" font-size="9.6" text-anchor="end" fill="#222" stroke="#222" stroke-width="0" font-weight="normal" >70</text>
<line x1="276.65" y1="405.31" x2="276.65" y2="404.44" stroke="#888" stroke-width="0.8" />
<line x1="275.45" y1="404.44" x2="277.85" y2="404.44" stroke="#888" stroke-width="0.8" />
<rect x="265.40" y="405.81" width="22.50" height="99.49" fill="#fff" stroke="#444444" stroke-width="1.0"/>
<line x1="300.15" y1="394.75" x2="300.15" y2="394.23" stroke="#888" stroke-width="0.8" />
<line x1="298.95" y1="394.23" x2="301.35" y2="394.23" stroke="#888" stroke-width="0.8" />
<rect x="288.40" y="394.75" width="23.50" height="110.55" fill="#000" stroke="none" stroke-width="1.0"/>
<line x1="335.10" y1="451.32" x2="335.10" y2="449.94" stroke="#888" stroke-width="0.8" />
<line x1="333.90" y1="449.94" x2="336.30" y2="449.94" stroke="#888" stroke-width="0.8" />
<rect x="323.85" y="451.82" width="22.50" height="53.48" fill="#fff" stroke="#444444" stroke-width="1.0"/>
<line x1="358.60" y1="458.76" x2="358.60" y2="457.21" stroke="#888" stroke-width="0.8" />
<line x1="357.40" y1="457.21" x2="359.80" y2="457.21" stroke="#888" stroke-width="0.8" />
<rect x="346.85" y="458.76" width="23.50" height="46.54" fill="#000" stroke="none" stroke-width="1.0"/>
<line x1="393.55" y1="485.41" x2="393.55" y2="485.06" stroke="#888" stroke-width="0.8" />
<line x1="392.35" y1="485.06" x2="394.75" y2="485.06" stroke="#888" stroke-width="0.8" />
<rect x="382.30" y="485.91" width="22.50" height="19.39" fill="#fff" stroke="#444444" stroke-width="1.0"/>
<line x1="417.05" y1="488.87" x2="417.05" y2="487.65" stroke="#888" stroke-width="0.8" />
<line x1="415.85" y1="487.65" x2="418.25" y2="487.65" stroke="#888" stroke-width="0.8" />
<rect x="405.30" y="488.87" width="23.50" height="16.44" fill="#000" stroke="none" stroke-width="1.0"/>
<path d="M276.60,403.44 L276.60,388.30 L300.20,388.30 L300.20,393.23" fill="none" stroke="#bcbcbc" stroke-width="0.9"/>
<polygon points="286.10,380.55 286.72,382.12 288.39,381.88 287.35,383.20 288.39,384.52 286.72,384.28 286.10,385.85 285.47,384.28 283.81,384.52 284.85,383.20 283.81,381.88 285.47,382.12" fill="#4a4a4a"/>
<polygon points="291.70,380.55 292.32,382.12 293.99,381.88 292.95,383.20 293.99,384.52 292.32,384.28 291.70,385.85 291.07,384.28 289.41,384.52 290.45,383.20 289.41,381.88 291.07,382.12" fill="#4a4a4a"/>
<path d="M335.10,448.94 L335.10,442.10 L358.60,442.10 L358.60,456.21" fill="none" stroke="#bcbcbc" stroke-width="0.9"/>
<polygon points="344.05,433.65 344.68,435.22 346.34,434.98 345.30,436.30 346.34,437.62 344.68,437.38 344.05,438.95 343.43,437.38 341.76,437.62 342.80,436.30 341.76,434.98 343.43,435.22" fill="#4a4a4a"/>
<polygon points="349.65,433.65 350.28,435.22 351.94,434.98 350.90,436.30 351.94,437.62 350.28,437.38 349.65,438.95 349.03,437.38 347.36,437.62 348.40,436.30 347.36,434.98 349.03,435.22" fill="#4a4a4a"/>
<text x="237.40" y="441.00" font-size="10.8" text-anchor="middle" fill="#222" stroke="#222" stroke-width="0" font-weight="normal" textLength="82.10" lengthAdjust="spacingAndGlyphs" transform="rotate(-90 237.40 441.00)" >Cell population(%)</text>
<text x="288.40" y="517.40" font-size="9.8" text-anchor="middle" fill="#222" stroke="#222" stroke-width="0" font-weight="normal" textLength="25.20" lengthAdjust="spacingAndGlyphs" >G0/G1</text>
<text x="346.85" y="517.40" font-size="9.8" text-anchor="middle" fill="#222" stroke="#222" stroke-width="0" font-weight="normal" >S</text>
<text x="405.30" y="517.40" font-size="9.8" text-anchor="middle" fill="#222" stroke="#222" stroke-width="0" font-weight="normal" >G2</text>
<rect x="356.60" y="363.50" width="19.20" height="9.60" fill="#fff" stroke="#333" stroke-width="1.0"/>
<rect x="356.10" y="373.10" width="20.20" height="10.60" fill="#000" stroke="none" stroke-width="1.0"/>
<text x="378.20" y="371.40" font-size="9.3" text-anchor="start" fill="#222" stroke="#222" stroke-width="0" font-weight="normal" textLength="38.80" lengthAdjust="spacingAndGlyphs" >siRNA NC</text>
<text x="378.20" y="381.90" font-size="9.3" text-anchor="start" fill="#222" stroke="#222" stroke-width="0" font-weight="normal" textLength="47.60" lengthAdjust="spacingAndGlyphs" >RNF4 siRNA</text>
<line x1="507.50" y1="330.60" x2="683.50" y2="330.60" stroke="#333" stroke-width="1.1" />
<line x1="507.50" y1="330.60" x2="507.50" y2="201.00" stroke="#333" stroke-width="1.1" />
<line x1="504.50" y1="330.60" x2="507.50" y2="330.60" stroke="#333" stroke-width="1.0" />
<line x1="504.50" y1="316.20" x2="507.50" y2="316.20" stroke="#333" stroke-width="1.0" />
<line x1="504.50" y1="301.80" x2="507.50" y2="301.80" stroke="#333" stroke-width="1.0" />
<line x1="504.50" y1="287.40" x2="507.50" y2="287.40" stroke="#333" stroke-width="1.0" />
<line x1="504.50" y1="273.00" x2="507.50" y2="273.00" stroke="#333" stroke-width="1.0" />
<line x1="504.50" y1="258.60" x2="507.50" y2="258.60" stroke="#333" stroke-width="1.0" />
<line x1="504.50" y1="244.20" x2="507.50" y2="244.20" stroke="#333" stroke-width="1.0" />
<line x1="504.50" y1="229.80" x2="507.50" y2="229.80" stroke="#333" stroke-width="1.0" />
<line x1="504.50" y1="215.40" x2="507.50" y2="215.40" stroke="#333" stroke-width="1.0" />
<line x1="504.50" y1="201.00" x2="507.50" y2="201.00" stroke="#333" stroke-width="1.0" />
<line x1="505.90" y1="323.40" x2="507.50" y2="323.40" stroke="#333" stroke-width="1.0" />
<line x1="505.90" y1="309.00" x2="507.50" y2="309.00" stroke="#333" stroke-width="1.0" />
<line x1="505.90" y1="294.60" x2="507.50" y2="294.60" stroke="#333" stroke-width="1.0" />
<line x1="505.90" y1="280.20" x2="507.50" y2="280.20" stroke="#333" stroke-width="1.0" />
<line x1="505.90" y1="265.80" x2="507.50" y2="265.80" stroke="#333" stroke-width="1.0" />
<line x1="505.90" y1="251.40" x2="507.50" y2="251.40" stroke="#333" stroke-width="1.0" />
<line x1="505.90" y1="237.00" x2="507.50" y2="237.00" stroke="#333" stroke-width="1.0" />
<line x1="505.90" y1="222.60" x2="507.50" y2="222.60" stroke="#333" stroke-width="1.0" />
<line x1="505.90" y1="208.20" x2="507.50" y2="208.20" stroke="#333" stroke-width="1.0" />
<line x1="551.80" y1="330.60" x2="551.80" y2="333.10" stroke="#333" stroke-width="1.0" />
<line x1="639.40" y1="330.60" x2="639.40" y2="333.10" stroke="#333" stroke-width="1.0" />
<line x1="595.60" y1="330.60" x2="595.60" y2="332.20" stroke="#333" stroke-width="1.0" />
<text x="503.50" y="333.85" font-size="9.6" text-anchor="end" fill="#222" stroke="#222" stroke-width="0" font-weight="normal" >0</text>
<text x="503.50" y="319.45" font-size="9.6" text-anchor="end" fill="#222" stroke="#222" stroke-width="0" font-weight="normal" >1</text>
<text x="503.50" y="305.05" font-size="9.6" text-anchor="end" fill="#222" stroke="#222" stroke-width="0" font-weight="normal" >2</text>
<text x="503.50" y="290.65" font-size="9.6" text-anchor="end" fill="#222" stroke="#222" stroke-width="0" font-weight="normal" >3</text>
<text x="503.50" y="276.25" font-size="9.6" text-anchor="end" fill="#222" stroke="#222" stroke-width="0" font-weight="normal" >4</text>
<text x="503.50" y="261.85" font-size="9.6" text-anchor="end" fill="#222" stroke="#222" stroke-width="0" font-weight="normal" >5</text>
<text x="503.50" y="247.45" font-size="9.6" text-anchor="end" fill="#222" stroke="#222" stroke-width="0" font-weight="normal" >6</text>
<text x="503.50" y="233.05" font-size="9.6" text-anchor="end" fill="#222" stroke="#222" stroke-width="0" font-weight="normal" >7</text>
<text x="503.50" y="218.65" font-size="9.6" text-anchor="end" fill="#222" stroke="#222" stroke-width="0" font-weight="normal" >8</text>
<text x="503.50" y="204.25" font-size="9.6" text-anchor="end" fill="#222" stroke="#222" stroke-width="0" font-weight="normal" >9</text>
<line x1="540.75" y1="309.58" x2="540.75" y2="306.12" stroke="#888" stroke-width="0.8" />
<line x1="539.55" y1="306.12" x2="541.95" y2="306.12" stroke="#888" stroke-width="0.8" />
<rect x="530.20" y="310.08" width="21.10" height="20.52" fill="#fff" stroke="#444444" stroke-width="1.0"/>
<line x1="562.85" y1="307.99" x2="562.85" y2="301.80" stroke="#aaa" stroke-width="0.8" />
<line x1="561.65" y1="301.80" x2="564.05" y2="301.80" stroke="#aaa" stroke-width="0.8" />
<rect x="551.80" y="307.99" width="22.10" height="22.61" fill="#000" stroke="none" stroke-width="1.0"/>
<line x1="628.35" y1="231.96" x2="628.35" y2="211.08" stroke="#888" stroke-width="0.8" />
<line x1="627.15" y1="211.08" x2="629.55" y2="211.08" stroke="#888" stroke-width="0.8" />
<rect x="617.80" y="232.46" width="21.10" height="98.14" fill="#fff" stroke="#444444" stroke-width="1.0"/>
<line x1="650.45" y1="284.66" x2="650.45" y2="273.00" stroke="#aaa" stroke-width="0.8" />
<line x1="649.25" y1="273.00" x2="651.65" y2="273.00" stroke="#aaa" stroke-width="0.8" />
<rect x="639.40" y="284.66" width="22.10" height="45.94" fill="#000" stroke="none" stroke-width="1.0"/>
<path d="M628.40,211.08 L628.40,204.40 L650.40,204.40 L650.40,273.00" fill="none" stroke="#bcbcbc" stroke-width="0.9"/>
<polygon points="639.80,197.15 640.42,198.72 642.09,198.48 641.05,199.80 642.09,201.12 640.42,200.88 639.80,202.45 639.17,200.88 637.51,201.12 638.55,199.80 637.51,198.48 639.17,198.72" fill="#4a4a4a"/>
<text x="490.70" y="268.50" font-size="10.8" text-anchor="middle" fill="#222" stroke="#222" stroke-width="0" font-weight="normal" textLength="82.10" lengthAdjust="spacingAndGlyphs" transform="rotate(-90 490.70 268.50)" >Cell population(%)</text>
<text x="551.90" y="342.90" font-size="9.8" text-anchor="middle" fill="#222" stroke="#222" stroke-width="0" font-weight="normal" >UL</text>
<text x="639.60" y="342.90" font-size="9.8" text-anchor="middle" fill="#222" stroke="#222" stroke-width="0" font-weight="normal" >LR</text>
<rect x="516.40" y="193.40" width="19.20" height="9.60" fill="#fff" stroke="#333" stroke-width="1.0"/>
<rect x="515.90" y="203.00" width="20.20" height="10.60" fill="#000" stroke="none" stroke-width="1.0"/>
<text x="538.20" y="201.40" font-size="9.3" text-anchor="start" fill="#222" stroke="#222" stroke-width="0" font-weight="normal" textLength="37.10" lengthAdjust="spacingAndGlyphs" >pcDNA3.1</text>
<text x="538.20" y="212.10" font-size="9.3" text-anchor="start" fill="#222" stroke="#222" stroke-width="0" font-weight="normal" textLength="61.30" lengthAdjust="spacingAndGlyphs" >RNF4 pcDNA3.1</text>
<line x1="507.10" y1="505.30" x2="683.50" y2="505.30" stroke="#333" stroke-width="1.1" />
<line x1="507.10" y1="505.30" x2="507.10" y2="375.10" stroke="#333" stroke-width="1.1" />
<line x1="504.10" y1="505.30" x2="507.10" y2="505.30" stroke="#333" stroke-width="1.0" />
<line x1="504.10" y1="486.70" x2="507.10" y2="486.70" stroke="#333" stroke-width="1.0" />
<line x1="504.10" y1="468.10" x2="507.10" y2="468.10" stroke="#333" stroke-width="1.0" />
<line x1="504.10" y1="449.50" x2="507.10" y2="449.50" stroke="#333" stroke-width="1.0" />
<line x1="504.10" y1="430.90" x2="507.10" y2="430.90" stroke="#333" stroke-width="1.0" />
<line x1="504.10" y1="412.30" x2="507.10" y2="412.30" stroke="#333" stroke-width="1.0" />
<line x1="504.10" y1="393.70" x2="507.10" y2="393.70" stroke="#333" stroke-width="1.0" />
<line x1="504.10" y1="375.10" x2="507.10" y2="375.10" stroke="#333" stroke-width="1.0" />
<line x1="505.50" y1="496.00" x2="507.10" y2="496.00" stroke="#333" stroke-width="1.0" />
<line x1="505.50" y1="477.40" x2="507.10" y2="477.40" stroke="#333" stroke-width="1.0" />
<line x1="505.50" y1="458.80" x2="507.10" y2="458.80" stroke="#333" stroke-width="1.0" />
<line x1="505.50" y1="440.20" x2="507.10" y2="440.20" stroke="#333" stroke-width="1.0" />
<line x1="505.50" y1="421.60" x2="507.10" y2="421.60" stroke="#333" stroke-width="1.0" />
<line x1="505.50" y1="403.00" x2="507.10" y2="403.00" stroke="#333" stroke-width="1.0" />
<line x1="505.50" y1="384.40" x2="507.10" y2="384.40" stroke="#333" stroke-width="1.0" />
<line x1="551.80" y1="505.30" x2="551.80" y2="507.80" stroke="#333" stroke-width="1.0" />
<line x1="639.40" y1="505.30" x2="639.40" y2="507.80" stroke="#333" stroke-width="1.0" />
<line x1="595.60" y1="505.30" x2="595.60" y2="506.90" stroke="#333" stroke-width="1.0" />
<text x="503.00" y="508.55" font-size="9.6" text-anchor="end" fill="#222" stroke="#222" stroke-width="0" font-weight="normal" >0.0</text>
<text x="503.00" y="489.95" font-size="9.6" text-anchor="end" fill="#222" stroke="#222" stroke-width="0" font-weight="normal" >0.5</text>
<text x="503.00" y="471.35" font-size="9.6" text-anchor="end" fill="#222" stroke="#222" stroke-width="0" font-weight="normal" >1.0</text>
<text x="503.00" y="452.75" font-size="9.6" text-anchor="end" fill="#222" stroke="#222" stroke-width="0" font-weight="normal" >1.5</text>
<text x="503.00" y="434.15" font-size="9.6" text-anchor="end" fill="#222" stroke="#222" stroke-width="0" font-weight="normal" >2.0</text>
<text x="503.00" y="415.55" font-size="9.6" text-anchor="end" fill="#222" stroke="#222" stroke-width="0" font-weight="normal" >2.5</text>
<text x="503.00" y="396.95" font-size="9.6" text-anchor="end" fill="#222" stroke="#222" stroke-width="0" font-weight="normal" >3.0</text>
<text x="503.00" y="378.35" font-size="9.6" text-anchor="end" fill="#222" stroke="#222" stroke-width="0" font-weight="normal" >3.5</text>
<line x1="540.75" y1="454.34" x2="540.75" y2="449.50" stroke="#999" stroke-width="0.8" />
<line x1="539.55" y1="449.50" x2="541.95" y2="449.50" stroke="#999" stroke-width="0.8" />
<rect x="530.20" y="454.84" width="21.10" height="50.46" fill="#fff" stroke="#444444" stroke-width="1.0"/>
<line x1="562.85" y1="424.58" x2="562.85" y2="423.46" stroke="#999" stroke-width="0.8" />
<line x1="561.65" y1="423.46" x2="564.05" y2="423.46" stroke="#999" stroke-width="0.8" />
<rect x="551.80" y="424.58" width="22.10" height="80.72" fill="#000" stroke="none" stroke-width="1.0"/>
<line x1="628.35" y1="421.23" x2="628.35" y2="414.90" stroke="#999" stroke-width="0.8" />
<line x1="627.15" y1="414.90" x2="629.55" y2="414.90" stroke="#999" stroke-width="0.8" />
<rect x="617.80" y="421.73" width="21.10" height="83.57" fill="#fff" stroke="#444444" stroke-width="1.0"/>
<line x1="650.45" y1="397.05" x2="650.45" y2="395.56" stroke="#999" stroke-width="0.8" />
<line x1="649.25" y1="395.56" x2="651.65" y2="395.56" stroke="#999" stroke-width="0.8" />
<rect x="639.40" y="397.05" width="22.10" height="108.25" fill="#000" stroke="none" stroke-width="1.0"/>
<path d="M540.70,449.50 L540.70,419.40 L563.30,419.40 L563.30,422.46" fill="none" stroke="#bcbcbc" stroke-width="0.9"/>
<polygon points="548.60,410.75 549.23,412.32 550.89,412.07 549.85,413.40 550.89,414.72 549.23,414.48 548.60,416.05 547.98,414.48 546.31,414.72 547.35,413.40 546.31,412.07 547.98,412.32" fill="#4a4a4a"/>
<polygon points="554.20,410.75 554.82,412.32 556.49,412.07 555.45,413.40 556.49,414.72 554.82,414.48 554.20,416.05 553.57,414.48 551.91,414.72 552.95,413.40 551.91,412.07 553.57,412.32" fill="#4a4a4a"/>
<path d="M628.50,414.90 L628.50,388.80 L650.50,388.80 L650.50,394.56" fill="none" stroke="#bcbcbc" stroke-width="0.9"/>
<polygon points="639.40,381.25 640.02,382.82 641.69,382.57 640.65,383.90 641.69,385.22 640.02,384.98 639.40,386.55 638.77,384.98 637.11,385.22 638.15,383.90 637.11,382.57 638.77,382.82" fill="#4a4a4a"/>
<text x="484.70" y="441.90" font-size="10.8" text-anchor="middle" fill="#222" stroke="#222" stroke-width="0" font-weight="normal" textLength="81.70" lengthAdjust="spacingAndGlyphs" transform="rotate(-90 484.70 441.90)" >Cell population(%)</text>
<text x="551.90" y="517.60" font-size="9.8" text-anchor="middle" fill="#222" stroke="#222" stroke-width="0" font-weight="normal" >UR</text>
<text x="639.60" y="517.60" font-size="9.8" text-anchor="middle" fill="#222" stroke="#222" stroke-width="0" font-weight="normal" >LR</text>
<rect x="516.10" y="368.80" width="19.10" height="9.40" fill="#fff" stroke="#333" stroke-width="1.0"/>
<rect x="515.60" y="377.70" width="20.10" height="10.80" fill="#000" stroke="none" stroke-width="1.0"/>
<text x="537.90" y="376.00" font-size="9.3" text-anchor="start" fill="#222" stroke="#222" stroke-width="0" font-weight="normal" textLength="38.20" lengthAdjust="spacingAndGlyphs" >siRNA NC</text>
<text x="537.90" y="386.90" font-size="9.3" text-anchor="start" fill="#222" stroke="#222" stroke-width="0" font-weight="normal" textLength="47.20" lengthAdjust="spacingAndGlyphs" >RNF4 siRNA</text>
</svg>
</body></html>
